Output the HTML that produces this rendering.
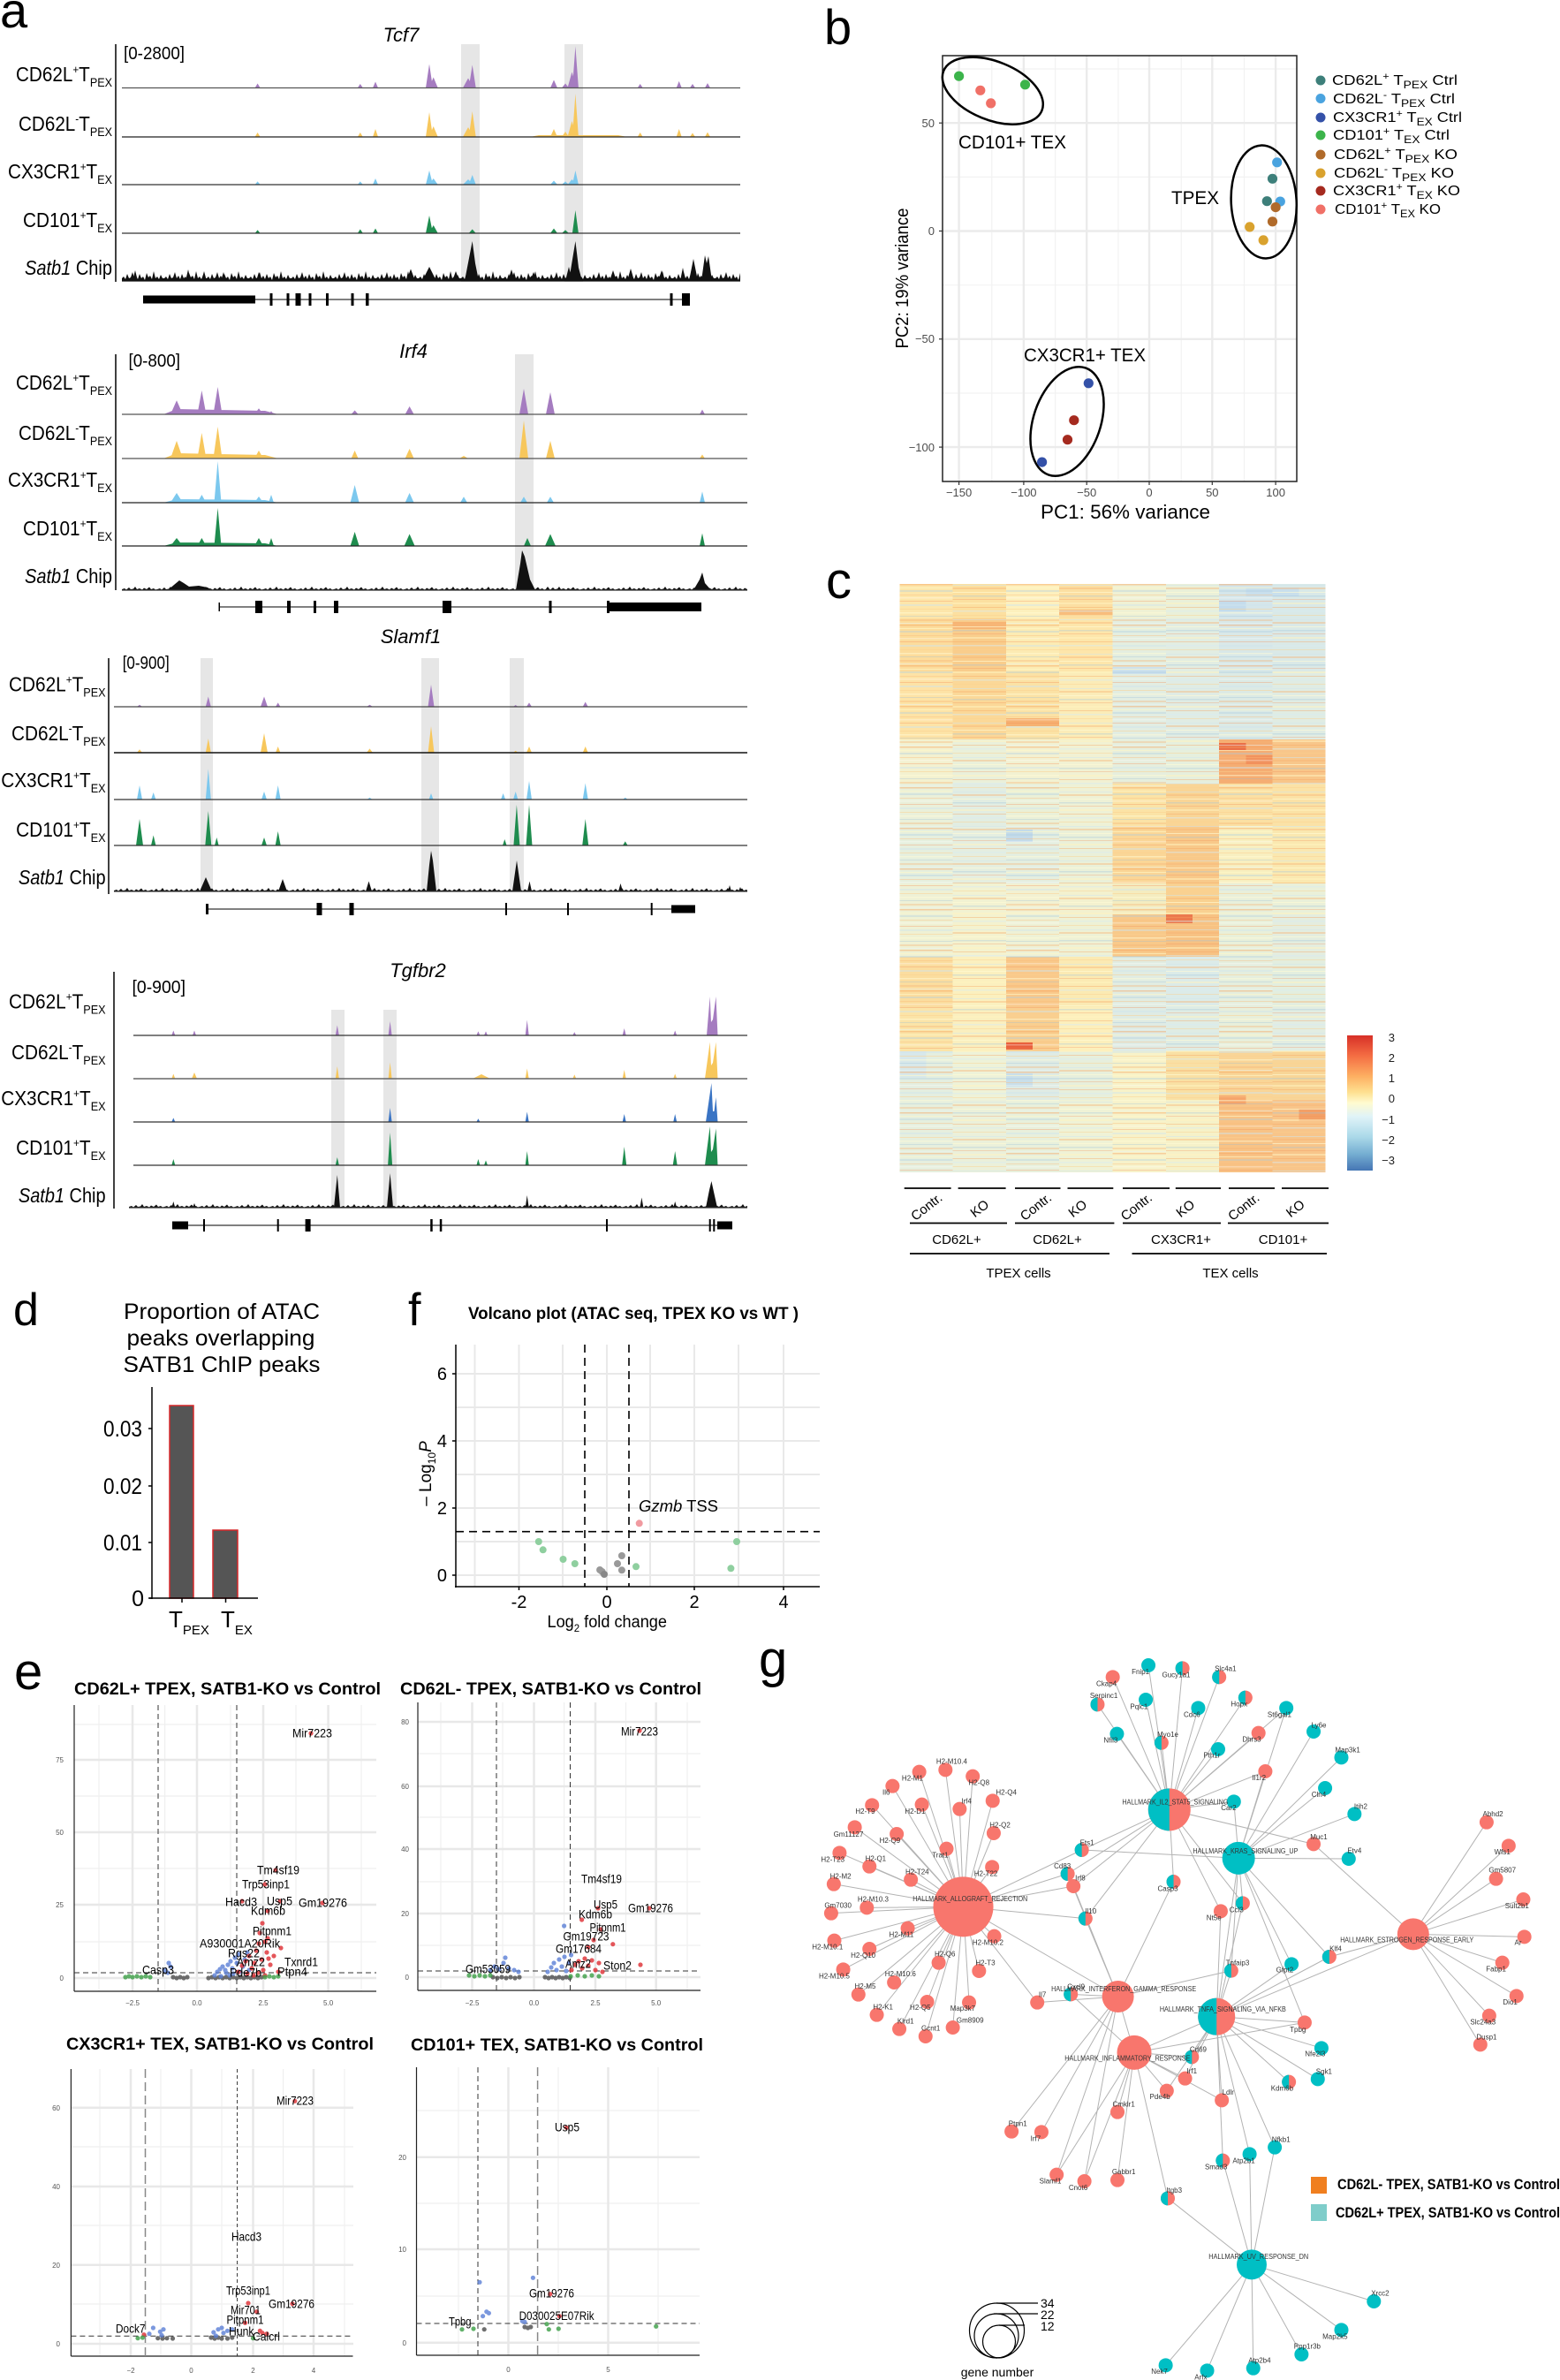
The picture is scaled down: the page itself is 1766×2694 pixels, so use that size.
<!DOCTYPE html>
<html><head><meta charset="utf-8"><style>
html,body{margin:0;padding:0;background:#fff;}
svg{display:block;}
text{font-family:"Liberation Sans",Arial,sans-serif;}
</style></head><body>
<svg width="1766" height="2694" viewBox="0 0 1766 2694" xmlns="http://www.w3.org/2000/svg">
<defs>
<pattern id="nz1" width="48" height="14" patternUnits="userSpaceOnUse"><path d="M0,14L0,11L2,9L4,12L6,6L8,11L10,10L12,4L14,11L16,8L18,12L20,6L22,11L24,9L26,13L28,5L30,10L32,8L34,12L36,3L38,11L40,9L42,12L44,7L46,11L48,11L48,14Z" fill="#111"/></pattern>
<pattern id="nz2" width="40" height="6" patternUnits="userSpaceOnUse"><path d="M0,6L0,5L3,4L5,5.5L8,3L10,5L13,4.5L15,2L17,5L20,4L23,5.5L25,3.5L28,5L31,2.5L33,5L36,4L38,5.5L40,5L40,6Z" fill="#111"/></pattern>
<pattern id="hsA" width="60.3" height="46" patternUnits="userSpaceOnUse" x="1018.3" y="661">
<rect y="0" width="60.3" height="1.5" fill="#f6a35f" opacity=".45"/><rect y="4" width="60.3" height="1" fill="#fff8c8" opacity=".6"/><rect y="7" width="60.3" height="2" fill="#a9cce3" opacity=".35"/><rect y="12" width="60.3" height="1" fill="#f9b878" opacity=".4"/><rect y="15" width="60.3" height="1.5" fill="#fff" opacity=".3"/><rect y="19" width="60.3" height="1" fill="#f28c57" opacity=".35"/><rect y="23" width="60.3" height="2" fill="#cfe5ee" opacity=".45"/><rect y="28" width="60.3" height="1" fill="#fbd08e" opacity=".5"/><rect y="32" width="60.3" height="1.5" fill="#fffbd6" opacity=".5"/><rect y="36" width="60.3" height="1" fill="#92bcd9" opacity=".3"/><rect y="40" width="60.3" height="2" fill="#f7b171" opacity=".35"/><rect y="44" width="60.3" height="1" fill="#e9f3f3" opacity=".5"/>
</pattern>
<pattern id="hsB" width="60.3" height="39" patternUnits="userSpaceOnUse" x="1018.3" y="661">
<rect y="1" width="60.3" height="1" fill="#cfe5ee" opacity=".5"/><rect y="4" width="60.3" height="2" fill="#f7b171" opacity=".4"/><rect y="9" width="60.3" height="1" fill="#fffbd6" opacity=".6"/><rect y="13" width="60.3" height="1.5" fill="#9cc3dd" opacity=".35"/><rect y="17" width="60.3" height="1" fill="#f28c57" opacity=".3"/><rect y="21" width="60.3" height="2" fill="#fff3c0" opacity=".5"/><rect y="26" width="60.3" height="1" fill="#f6a35f" opacity=".4"/><rect y="30" width="60.3" height="1.5" fill="#d8ebf1" opacity=".5"/><rect y="35" width="60.3" height="1" fill="#fbd08e" opacity=".45"/>
</pattern>
<linearGradient id="cbar" x1="0" y1="0" x2="0" y2="1">
<stop offset="0" stop-color="#d73027"/><stop offset=".15" stop-color="#f46d43"/><stop offset=".3" stop-color="#fdae61"/><stop offset=".42" stop-color="#fee090"/><stop offset=".5" stop-color="#fffbd0"/><stop offset=".6" stop-color="#e0f3f8"/><stop offset=".75" stop-color="#abd9e9"/><stop offset=".88" stop-color="#74add1"/><stop offset="1" stop-color="#4575b4"/>
</linearGradient>
</defs>

<!-- ================= PANEL A ================= -->
<text x="0" y="31" font-size="56">a</text>

<!-- Tcf7 -->
<rect x="522" y="50" width="21" height="269" fill="#e6e6e6"/>
<rect x="639" y="50" width="21" height="269" fill="#e6e6e6"/>
<line x1="131" y1="50" x2="131" y2="319" stroke="#000" stroke-width="1.5"/>
<text x="454" y="47" font-size="22" font-style="italic" text-anchor="middle">Tcf7</text>
<text x="140" y="67" font-size="20" textLength="69" lengthAdjust="spacingAndGlyphs">[0-2800]</text>
<g transform="translate(0,99.5)"><path fill="#a57cc0" d="M288.6,0L291.6,-5L294.6,0Z M404.8,0L407.8,-4.5L410.8,0Z M422,0L425,-7L428,0Z M482,0L486,-27L490,0Z M485.7,0L490.7,-12L495.7,0Z M524,0L530,-11L536,0Z M530.7,0L534.7,-26L538.7,0Z M623,0L627,-9L631,0Z M636,0L640,-5L644,0Z M642.5,0L647.5,-18L652.5,0Z M647.9,0L651.4,-47L654.9,0Z M721.7,0L724.7,-4.5L727.7,0Z M765.7,0L768.7,-7.6L771.7,0Z M781,0L784,-4.5L787,0Z M798,0L801,-5.4L804,0Z"/><line x1="138" y1="0" x2="838" y2="0" stroke="#555" stroke-width="1.3"/></g>
<g transform="translate(0,155)"><path fill="#f7c75c" d="M288.6,0L291.6,-5L294.6,0Z M404.8,0L407.8,-5L410.8,0Z M422,0L425,-9L428,0Z M482,0L486,-28L490,0Z M485.7,0L490.7,-12L495.7,0Z M524,0L530,-11L536,0Z M530.7,0L534.7,-29L538.7,0Z M623,0L627,-9L631,0Z M636,0L640,-6L644,0Z M642.5,0L647.5,-18L652.5,0Z M647.9,0L651.4,-49L654.9,0Z M721.7,0L724.7,-5L727.7,0Z M765.7,0L768.7,-9L771.7,0Z M781,0L784,-4.5L787,0Z M798,0L801,-5.4L804,0Z M600,0L610,-2L700,-2L710,0Z"/><line x1="138" y1="0" x2="838" y2="0" stroke="#222" stroke-width="1.3"/></g>
<g transform="translate(0,209)"><path fill="#7cc8ee" d="M288.6,0L291.6,-3.6L294.6,0Z M404.8,0L407.8,-3.6L410.8,0Z M422,0L425,-7L428,0Z M482,0L486,-16L490,0Z M485.7,0L490.7,-7L495.7,0Z M524,0L530,-6L536,0Z M530.7,0L534.7,-11L538.7,0Z M623,0L627,-4.5L631,0Z M636,0L640,-3.6L644,0Z M647.9,0L651.4,-16L654.9,0Z M642.5,0L647.5,-6L652.5,0Z"/><line x1="138" y1="0" x2="838" y2="0" stroke="#333" stroke-width="1.3"/></g>
<g transform="translate(0,264)"><path fill="#1e8c4e" d="M288.6,0L291.6,-3.6L294.6,0Z M404.8,0L407.8,-4.5L410.8,0Z M422,0L425,-5.4L428,0Z M482,0L486,-20L490,0Z M485.7,0L490.7,-9L495.7,0Z M530.7,0L534.7,-4.5L538.7,0Z M623,0L627,-5.4L631,0Z M636,0L640,-3.6L644,0Z M647.9,0L651.4,-26L654.9,0Z"/><line x1="138" y1="0" x2="838" y2="0" stroke="#333" stroke-width="1.3"/></g>
<g transform="translate(138,304)"><rect x="0" y="0" width="700" height="14" fill="url(#nz1)"/></g>
<g transform="translate(0,318)"><path fill="#111" d="M526,0L534.7,-45L538,-20L542,0Z M644,0L651.4,-45L655,-15L659,0Z M478,0L486,-16L494,0Z M460,0L465,-13.5L470,0Z M794,0L798,-29L800,-20L802,-28L806,0Z M780,0L785,-25L790,0Z M640,0L644,-16L648,0Z M710,0L714,-14L718,0Z M690,0L694,-12L698,0Z M745,0L749,-12L753,0Z M770,0L773,-15L776,0Z M575,0L579,-13L583,0Z M600,0L604,-10L608,0Z M210,0L213,-13L216,0Z M228,0L231,-11L234,0Z M250,0L253,-10L256,0Z M290,0L293,-10L296,0Z M150,0L153,-12L156,0Z M512,0L516,-11L520,0Z"/><line x1="138" y1="0" x2="838" y2="0" stroke="#111" stroke-width="1.3"/></g>
<g font-size="23">
<text x="127" y="92" text-anchor="end" textLength="109" lengthAdjust="spacingAndGlyphs">CD62L<tspan font-size="13" dy="-9">+</tspan><tspan dy="9">T</tspan><tspan font-size="14" dy="6">PEX</tspan></text>
<text x="127" y="148" text-anchor="end" textLength="106" lengthAdjust="spacingAndGlyphs">CD62L<tspan font-size="13" dy="-9">-</tspan><tspan dy="9">T</tspan><tspan font-size="14" dy="6">PEX</tspan></text>
<text x="127" y="202" text-anchor="end" textLength="118" lengthAdjust="spacingAndGlyphs">CX3CR1<tspan font-size="13" dy="-9">+</tspan><tspan dy="9">T</tspan><tspan font-size="14" dy="6">EX</tspan></text>
<text x="127" y="257" text-anchor="end" textLength="101" lengthAdjust="spacingAndGlyphs">CD101<tspan font-size="13" dy="-9">+</tspan><tspan dy="9">T</tspan><tspan font-size="14" dy="6">EX</tspan></text>
<text x="127" y="311" text-anchor="end" textLength="99" lengthAdjust="spacingAndGlyphs"><tspan font-style="italic">Satb1</tspan> Chip</text>
</g>
<g fill="#000"><rect x="162" y="334.5" width="127" height="9"/><rect x="289" y="338.5" width="492" height="1"/><rect x="305.5" y="332" width="3" height="14"/><rect x="324.5" y="332" width="3" height="14"/><rect x="334.5" y="332" width="6" height="14"/><rect x="349.5" y="332" width="3" height="14"/><rect x="369" y="332" width="3" height="14"/><rect x="397.5" y="332" width="3" height="14"/><rect x="414" y="332" width="3.5" height="14"/><rect x="758.5" y="332" width="3" height="14"/><rect x="772" y="332" width="9" height="14"/></g>

<!-- Irf4 -->
<rect x="583" y="401" width="21" height="267" fill="#e6e6e6"/>
<line x1="131" y1="401" x2="131" y2="668" stroke="#000" stroke-width="1.5"/>
<text x="468" y="405" font-size="22" font-style="italic" text-anchor="middle">Irf4</text>
<text x="145.5" y="415" font-size="20" textLength="58.5" lengthAdjust="spacingAndGlyphs">[0-800]</text>
<g transform="translate(0,469)"><path fill="#a57cc0" d="M193,0L200,-15.7L207,0Z M223.4,0L228.4,-27L233.4,0Z M241.5,0L246.5,-31L251.5,0Z M261,0L265,-4.5L269,0Z M288,0L293,-6.7L298,0Z M304,0L307,-3.6L310,0Z M397.6,0L401.6,-4.5L405.6,0Z M458.6,0L463.6,-9L468.6,0Z M588,0L593,-29L598,0Z M618,0L623,-25L628,0Z M792,0L795,-5.4L798,0Z M185,0L200,-6L300,-4L315,0Z"/><line x1="138" y1="0" x2="846" y2="0" stroke="#555" stroke-width="1.3"/></g>
<g transform="translate(0,519)"><path fill="#f7c75c" d="M193,0L200,-20L207,0Z M223.4,0L228.4,-29L233.4,0Z M241.5,0L246.5,-36L251.5,0Z M288,0L293,-9L298,0Z M397.6,0L401.6,-9L405.6,0Z M458.6,0L463.6,-11L468.6,0Z M588,0L593,-43L598,0Z M618,0L623,-20L628,0Z M792,0L795,-4.5L798,0Z M185,0L200,-6L300,-4L315,0Z M520,0L525,-3L530,0Z"/><line x1="138" y1="0" x2="846" y2="0" stroke="#555" stroke-width="1.3"/></g>
<g transform="translate(0,569)"><path fill="#7cc8ee" d="M193,0L200,-11L207,0Z M223.4,0L228.4,-9L233.4,0Z M242.5,0L246.5,-47L250.5,0Z M288,0L293,-7L298,0Z M304,0L307,-9L310,0Z M396.6,0L401.6,-20L406.6,0Z M458.6,0L463.6,-11L468.6,0Z M521,0L525,-6.7L529,0Z M589,0L593,-6.7L597,0Z M619,0L623,-6.7L627,0Z M792,0L795,-12.6L798,0Z M185,0L200,-4L300,-3L315,0Z"/><line x1="138" y1="0" x2="846" y2="0" stroke="#222" stroke-width="1.3"/></g>
<g transform="translate(0,618)"><path fill="#1e8c4e" d="M193,0L200,-9L207,0Z M223.4,0L228.4,-9L233.4,0Z M242.5,0L246.5,-43L250.5,0Z M288,0L293,-9L298,0Z M304,0L307,-9L310,0Z M396.6,0L401.6,-16L406.6,0Z M457.6,0L463.6,-13.5L469.6,0Z M593,0L597,-9L601,0Z M617,0L623,-13.5L629,0Z M792,0L795,-14.4L798,0Z M185,0L200,-4L300,-3L315,0Z"/><line x1="138" y1="0" x2="846" y2="0" stroke="#222" stroke-width="1.3"/></g>
<g transform="translate(138,662)"><rect x="0" y="0" width="708" height="6" fill="url(#nz2)"/></g>
<g transform="translate(0,668)"><path fill="#111" d="M190,0L197,-6L203,-11L208,-8L214,-4L225,-5L235,-3L240,0Z M584,0L589,-30L591,-45L594,-38L600,-12L606,0Z M785,0L792,-12L795,-20L798,-8L805,0Z M617,0L620,-4L623,0Z"/><line x1="138" y1="0" x2="846" y2="0" stroke="#333" stroke-width="1.3"/></g>
<g font-size="23">
<text x="127" y="441" text-anchor="end" textLength="109" lengthAdjust="spacingAndGlyphs">CD62L<tspan font-size="13" dy="-9">+</tspan><tspan dy="9">T</tspan><tspan font-size="14" dy="6">PEX</tspan></text>
<text x="127" y="498" text-anchor="end" textLength="106" lengthAdjust="spacingAndGlyphs">CD62L<tspan font-size="13" dy="-9">-</tspan><tspan dy="9">T</tspan><tspan font-size="14" dy="6">PEX</tspan></text>
<text x="127" y="551" text-anchor="end" textLength="118" lengthAdjust="spacingAndGlyphs">CX3CR1<tspan font-size="13" dy="-9">+</tspan><tspan dy="9">T</tspan><tspan font-size="14" dy="6">EX</tspan></text>
<text x="127" y="606" text-anchor="end" textLength="101" lengthAdjust="spacingAndGlyphs">CD101<tspan font-size="13" dy="-9">+</tspan><tspan dy="9">T</tspan><tspan font-size="14" dy="6">EX</tspan></text>
<text x="127" y="660" text-anchor="end" textLength="99" lengthAdjust="spacingAndGlyphs"><tspan font-style="italic">Satb1</tspan> Chip</text>
</g>
<g fill="#000"><rect x="248" y="686.5" width="546" height="1"/><rect x="247.5" y="682" width="1.5" height="10"/><rect x="289" y="680" width="8" height="14"/><rect x="325" y="680" width="4" height="14"/><rect x="355" y="680" width="3" height="14"/><rect x="378" y="680" width="5" height="14"/><rect x="501" y="680" width="10" height="14"/><rect x="621.5" y="680" width="3" height="14"/><rect x="687" y="680" width="3" height="14"/><rect x="688" y="682" width="106" height="10"/></g>

<!-- Slamf1 -->
<rect x="227" y="745" width="14" height="264" fill="#e6e6e6"/>
<rect x="477" y="745" width="20" height="264" fill="#e6e6e6"/>
<rect x="577" y="745" width="16" height="264" fill="#e6e6e6"/>
<line x1="123" y1="745" x2="123" y2="1012" stroke="#000" stroke-width="1.5"/>
<text x="465" y="728" font-size="22" font-style="italic" text-anchor="middle">Slamf1</text>
<text x="138.7" y="757" font-size="20" textLength="53" lengthAdjust="spacingAndGlyphs">[0-900]</text>
<g transform="translate(0,800)"><path fill="#a57cc0" d="M155,0L158,-2.3L161,0Z M232.8,0L235.8,-11.5L238.8,0Z M295,0L299,-11.5L303,0Z M312,0L314.7,-4.6L317.4,0Z M415,0L418.5,-2.3L422,0Z M484.5,0L488,-25L491.5,0Z M581,0L583.7,-2L586.4,0Z M596,0L599,-4.6L602,0Z M659.7,0L662.7,-5.5L665.7,0Z"/><line x1="129" y1="0" x2="846" y2="0" stroke="#444" stroke-width="1.3"/></g>
<g transform="translate(0,852)"><path fill="#f7c75c" d="M155,0L158,-3.7L161,0Z M232.8,0L235.8,-16L238.8,0Z M295,0L299,-22L303,0Z M312,0L314.7,-7L317.4,0Z M415,0L418.5,-4.6L422,0Z M484.5,0L488,-30L491.5,0Z M581,0L583.7,-2.3L586.4,0Z M596,0L599,-7L602,0Z M659.7,0L662.7,-7L665.7,0Z"/><line x1="129" y1="0" x2="846" y2="0" stroke="#111" stroke-width="1.5"/></g>
<g transform="translate(0,905)"><path fill="#7cc8ee" d="M155,0L158,-16L161,0Z M171,0L173.7,-8L176.4,0Z M232.8,0L235.8,-34.6L238.8,0Z M296,0L299,-9L302,0Z M311.7,0L314.7,-16L317.7,0Z M415.5,0L418.5,-2.3L421.5,0Z M485.5,0L488,-7L490.5,0Z M567,0L569.6,-7L572.2,0Z M581,0L583.7,-9L586.4,0Z M596,0L599,-21L602,0Z M659.7,0L662.7,-18.5L665.7,0Z M705,0L707.8,-2.3L710.6,0Z"/><line x1="129" y1="0" x2="846" y2="0" stroke="#333" stroke-width="1.3"/></g>
<g transform="translate(0,957)"><path fill="#1e8c4e" d="M154,0L158,-30L162,0Z M171,0L173.7,-11.5L176.4,0Z M232.3,0L235.8,-39L239.3,0Z M243,0L245.3,-9L247.6,0Z M296,0L299,-9L302,0Z M311.7,0L314.7,-16L317.7,0Z M569,0L571.3,-7L573.6,0Z M581.4,0L584.9,-46L588.4,0Z M595.5,0L599,-46L602.5,0Z M659.2,0L662.7,-30L666.2,0Z M705,0L707.8,-4.6L710.6,0Z"/><line x1="129" y1="0" x2="846" y2="0" stroke="#333" stroke-width="1.3"/></g>
<g transform="translate(129,1003)"><rect x="0" y="0" width="717" height="6" fill="url(#nz2)"/></g>
<g transform="translate(0,1009)"><path fill="#111" d="M226,0L233,-16L240,0Z M315,0L320,-14L325,0Z M414,0L417.5,-11.5L421,0Z M483,0L486,-30L488,-46L490,-35L494,0Z M580,0L585,-35L590,0Z M597,0L599.5,-11.5L602,0Z M700,0L702.5,-9L705,0Z M824,0L826,-7L828,0Z M836,0L838,-5L840,0Z"/><line x1="129" y1="0" x2="846" y2="0" stroke="#333" stroke-width="1.3"/></g>
<g font-size="23">
<text x="119.6" y="782.5" text-anchor="end" textLength="109.6" lengthAdjust="spacingAndGlyphs">CD62L<tspan font-size="13" dy="-9">+</tspan><tspan dy="9">T</tspan><tspan font-size="14" dy="6">PEX</tspan></text>
<text x="119.6" y="838" text-anchor="end" textLength="106.6" lengthAdjust="spacingAndGlyphs">CD62L<tspan font-size="13" dy="-9">-</tspan><tspan dy="9">T</tspan><tspan font-size="14" dy="6">PEX</tspan></text>
<text x="119.6" y="891" text-anchor="end" textLength="118.4" lengthAdjust="spacingAndGlyphs">CX3CR1<tspan font-size="13" dy="-9">+</tspan><tspan dy="9">T</tspan><tspan font-size="14" dy="6">EX</tspan></text>
<text x="119.6" y="947" text-anchor="end" textLength="101.5" lengthAdjust="spacingAndGlyphs">CD101<tspan font-size="13" dy="-9">+</tspan><tspan dy="9">T</tspan><tspan font-size="14" dy="6">EX</tspan></text>
<text x="119.6" y="1001" text-anchor="end" textLength="98.7" lengthAdjust="spacingAndGlyphs"><tspan font-style="italic">Satb1</tspan> Chip</text>
</g>
<g fill="#000"><rect x="234" y="1028.5" width="553" height="1"/><rect x="233" y="1023" width="3" height="12"/><rect x="358.5" y="1022" width="6" height="14"/><rect x="395.5" y="1022" width="5" height="14"/><rect x="572" y="1022" width="2" height="14"/><rect x="642" y="1022" width="2" height="14"/><rect x="736.7" y="1022" width="2" height="14"/><rect x="760" y="1024.5" width="27" height="9"/></g>

<!-- Tgfbr2 -->
<rect x="375" y="1143" width="15" height="224" fill="#e6e6e6"/>
<rect x="434" y="1143" width="15" height="224" fill="#e6e6e6"/>
<line x1="129" y1="1100" x2="129" y2="1368" stroke="#000" stroke-width="1.5"/>
<text x="473" y="1106" font-size="22" font-style="italic" text-anchor="middle">Tgfbr2</text>
<text x="149.5" y="1124" font-size="20" textLength="60.5" lengthAdjust="spacingAndGlyphs">[0-900]</text>
<g transform="translate(0,1172)"><path fill="#a57cc0" d="M194.3,0L196.3,-5.5L198.3,0Z M218,0L220,-5.5L222,0Z M379.8,0L381.8,-11.5L383.8,0Z M439.6,0L441.6,-16L443.6,0Z M539.4,0L541.4,-4.6L543.4,0Z M548,0L550,-4.6L552,0Z M594.7,0L596.7,-17.5L598.7,0Z M648.3,0L650.3,-3.7L652.3,0Z M704.7,0L706.7,-8L708.7,0Z M762.2,0L764.2,-5.5L766.2,0Z M800,0L803.7,-44L805,-15L807,-18L810.5,-44L812.5,0Z"/><line x1="151" y1="0" x2="846" y2="0" stroke="#333" stroke-width="1.3"/></g>
<g transform="translate(0,1221)"><path fill="#f7c75c" d="M194.3,0L196.3,-5.5L198.3,0Z M217,0L220,-7L223,0Z M379.8,0L381.8,-14L383.8,0Z M439.6,0L441.6,-18.5L443.6,0Z M535,0L545,-5L555,0Z M594.7,0L596.7,-11.5L598.7,0Z M648.3,0L650.3,-4.6L652.3,0Z M704.7,0L706.7,-10L708.7,0Z M762.2,0L764.2,-5.5L766.2,0Z M798,0L803.7,-41.5L805,-15L807,-18L810.5,-41.5L812.5,0Z"/><line x1="151" y1="0" x2="846" y2="0" stroke="#666" stroke-width="1.5"/></g>
<g transform="translate(0,1270)"><path fill="#3a74c4" d="M194.3,0L196.3,-4.6L198.3,0Z M439.6,0L441.6,-16L443.6,0Z M539.4,0L541.4,-3.7L543.4,0Z M594.7,0L596.7,-11.5L598.7,0Z M704.7,0L706.7,-9L708.7,0Z M762.2,0L764.2,-9L766.2,0Z M799,0L805.4,-44L807,-12L808.5,-12L810.5,-28L812.5,0Z"/><line x1="151" y1="0" x2="846" y2="0" stroke="#333" stroke-width="1.3"/></g>
<g transform="translate(0,1319)"><path fill="#1e8c4e" d="M194.3,0L196.3,-7L198.3,0Z M379.8,0L381.8,-9L383.8,0Z M439.1,0L441.6,-37L444.1,0Z M539.4,0L541.4,-7L543.4,0Z M548,0L550,-5.5L552,0Z M594.7,0L596.7,-16L598.7,0Z M704.2,0L706.7,-21L709.2,0Z M761.7,0L764.2,-16L766.7,0Z M798,0L803.7,-44L805,-15L807,-18L810.5,-41.5L812.5,0Z"/><line x1="151" y1="0" x2="846" y2="0" stroke="#333" stroke-width="1.3"/></g>
<g transform="translate(146,1361)"><rect x="0" y="0" width="700" height="6" fill="url(#nz2)"/></g>
<g transform="translate(0,1367)"><path fill="#111" d="M378,0L381.8,-37L385,0Z M438,0L441.6,-39L445,0Z M594.7,0L596.7,-14L598.7,0Z M724.4,0L726.4,-11.5L728.4,0Z M762.2,0L764.2,-7L766.2,0Z M799,0L803,-20L805.4,-30L808,-18L812,0Z M194.3,0L196.3,-7L198.3,0Z M218,0L220,-5L222,0Z"/><line x1="146" y1="0" x2="846" y2="0" stroke="#333" stroke-width="1.3"/></g>
<g font-size="23">
<text x="119.6" y="1141.5" text-anchor="end" textLength="109.6" lengthAdjust="spacingAndGlyphs">CD62L<tspan font-size="13" dy="-9">+</tspan><tspan dy="9">T</tspan><tspan font-size="14" dy="6">PEX</tspan></text>
<text x="119.6" y="1199" text-anchor="end" textLength="106.6" lengthAdjust="spacingAndGlyphs">CD62L<tspan font-size="13" dy="-9">-</tspan><tspan dy="9">T</tspan><tspan font-size="14" dy="6">PEX</tspan></text>
<text x="119.6" y="1251" text-anchor="end" textLength="118.4" lengthAdjust="spacingAndGlyphs">CX3CR1<tspan font-size="13" dy="-9">+</tspan><tspan dy="9">T</tspan><tspan font-size="14" dy="6">EX</tspan></text>
<text x="119.6" y="1307" text-anchor="end" textLength="101.5" lengthAdjust="spacingAndGlyphs">CD101<tspan font-size="13" dy="-9">+</tspan><tspan dy="9">T</tspan><tspan font-size="14" dy="6">EX</tspan></text>
<text x="119.6" y="1361" text-anchor="end" textLength="98.7" lengthAdjust="spacingAndGlyphs"><tspan font-style="italic">Satb1</tspan> Chip</text>
</g>
<g fill="#000"><rect x="213" y="1386.5" width="616" height="1"/><rect x="195" y="1382.5" width="18" height="9"/><rect x="230" y="1380" width="2" height="14"/><rect x="313.7" y="1380" width="2" height="14"/><rect x="345.6" y="1380" width="6" height="14"/><rect x="487.2" y="1380" width="2.5" height="14"/><rect x="497.8" y="1380" width="2.5" height="14"/><rect x="686" y="1380" width="2" height="14"/><rect x="802.7" y="1380" width="2" height="14"/><rect x="807.3" y="1380" width="2" height="14"/><rect x="812" y="1382.5" width="17" height="9"/></g>

<!-- ================= PANEL B ================= -->
<text x="933" y="50" font-size="56">b</text>
<rect x="1067" y="63" width="401" height="482" fill="#fff"/>
<g stroke="#f2f2f2" stroke-width="1.2">
<line x1="1122.8" y1="63" x2="1122.8" y2="545"/><line x1="1194.6" y1="63" x2="1194.6" y2="545"/><line x1="1265.9" y1="63" x2="1265.9" y2="545"/><line x1="1337.2" y1="63" x2="1337.2" y2="545"/><line x1="1408.5" y1="63" x2="1408.5" y2="545"/>
<line x1="1067" y1="78" x2="1468" y2="78"/><line x1="1067" y1="200.4" x2="1468" y2="200.4"/><line x1="1067" y1="322.7" x2="1468" y2="322.7"/><line x1="1067" y1="445" x2="1468" y2="445"/>
</g>
<g stroke="#ebebeb" stroke-width="2.4">
<line x1="1085.6" y1="63" x2="1085.6" y2="545"/><line x1="1158.9" y1="63" x2="1158.9" y2="545"/><line x1="1230.2" y1="63" x2="1230.2" y2="545"/><line x1="1301" y1="63" x2="1301" y2="545"/><line x1="1372.3" y1="63" x2="1372.3" y2="545"/><line x1="1444.1" y1="63" x2="1444.1" y2="545"/>
<line x1="1067" y1="139.2" x2="1468" y2="139.2"/><line x1="1067" y1="261.5" x2="1468" y2="261.5"/><line x1="1067" y1="383.8" x2="1468" y2="383.8"/><line x1="1067" y1="506.1" x2="1468" y2="506.1"/>
</g>
<rect x="1067" y="63" width="401" height="482" fill="none" stroke="#222" stroke-width="1.5"/>
<g stroke="#333" stroke-width="1.2">
<line x1="1063" y1="139.2" x2="1067" y2="139.2"/><line x1="1063" y1="261.5" x2="1067" y2="261.5"/><line x1="1063" y1="383.8" x2="1067" y2="383.8"/><line x1="1063" y1="506.1" x2="1067" y2="506.1"/>
<line x1="1085.6" y1="545" x2="1085.6" y2="549"/><line x1="1158.9" y1="545" x2="1158.9" y2="549"/><line x1="1230.2" y1="545" x2="1230.2" y2="549"/><line x1="1301" y1="545" x2="1301" y2="549"/><line x1="1372.3" y1="545" x2="1372.3" y2="549"/><line x1="1444.1" y1="545" x2="1444.1" y2="549"/>
</g>
<g font-size="13" fill="#4d4d4d">
<text x="1058" y="144" text-anchor="end">50</text><text x="1058" y="266" text-anchor="end">0</text><text x="1058" y="388" text-anchor="end">−50</text><text x="1058" y="511" text-anchor="end">−100</text>
<g text-anchor="middle"><text x="1085.6" y="562">−150</text><text x="1158.9" y="562">−100</text><text x="1230.2" y="562">−50</text><text x="1301" y="562">0</text><text x="1372.3" y="562">50</text><text x="1444.1" y="562">100</text></g>
</g>
<text x="1274" y="587" font-size="22" text-anchor="middle" textLength="192" lengthAdjust="spacingAndGlyphs">PC1: 56% variance</text>
<text transform="translate(1028,315) rotate(-90)" font-size="20" text-anchor="middle" textLength="159" lengthAdjust="spacingAndGlyphs">PC2: 19% variance</text>
<g fill="none" stroke="#000" stroke-width="2.5">
<ellipse cx="1123.8" cy="102.7" rx="60" ry="33" transform="rotate(22 1123.8 102.7)"/>
<ellipse cx="1430.7" cy="228.5" rx="37" ry="64" transform="rotate(-3 1430.7 228.5)"/>
<ellipse cx="1208" cy="477" rx="38" ry="64" transform="rotate(19 1208 477)"/>
</g>
<g>
<circle cx="1085.6" cy="86.2" r="5.6" fill="#3cb44b"/><circle cx="1160.5" cy="95.8" r="5.6" fill="#3cb44b"/>
<circle cx="1109.8" cy="102.3" r="5.6" fill="#f07067"/><circle cx="1121.7" cy="116.9" r="5.6" fill="#f07067"/>
<circle cx="1445.7" cy="183.8" r="5.6" fill="#4aa3df"/><circle cx="1440.5" cy="202.3" r="5.6" fill="#3d7f7a"/><circle cx="1434.3" cy="227.7" r="5.6" fill="#3d7f7a"/><circle cx="1449.3" cy="228.1" r="5.6" fill="#4aa3df"/><circle cx="1444.1" cy="234.6" r="5.6" fill="#b06a2a"/><circle cx="1440.5" cy="250.8" r="5.6" fill="#b06a2a"/><circle cx="1414.7" cy="256.9" r="5.6" fill="#d9a22e"/><circle cx="1430.2" cy="271.9" r="5.6" fill="#d9a22e"/>
<circle cx="1232.3" cy="433.8" r="5.6" fill="#3451a8"/><circle cx="1215.8" cy="475.7" r="5.6" fill="#a52a1f"/><circle cx="1208.5" cy="497.7" r="5.6" fill="#a52a1f"/><circle cx="1179.6" cy="523.1" r="5.6" fill="#3451a8"/>
</g>
<text x="1085" y="168" font-size="21" textLength="122" lengthAdjust="spacingAndGlyphs">CD101+ TEX</text>
<text x="1326" y="231" font-size="21" textLength="54" lengthAdjust="spacingAndGlyphs">TPEX</text>
<text x="1159" y="409" font-size="21" textLength="138" lengthAdjust="spacingAndGlyphs">CX3CR1+ TEX</text>
<!-- legend b -->
<g>
<circle cx="1495" cy="91" r="5.5" fill="#3d7f7a"/><circle cx="1495" cy="111.5" r="5.5" fill="#4aa3df"/><circle cx="1495" cy="133" r="5.5" fill="#3451a8"/><circle cx="1495" cy="153" r="5.5" fill="#3cb44b"/><circle cx="1495" cy="175" r="5.5" fill="#b06a2a"/><circle cx="1495" cy="196" r="5.5" fill="#d9a22e"/><circle cx="1495" cy="216" r="5.5" fill="#a52a1f"/><circle cx="1495" cy="237" r="5.5" fill="#f07067"/>
</g>
<g font-size="16">
<text x="1508" y="96" textLength="142" lengthAdjust="spacingAndGlyphs">CD62L<tspan font-size="11" dy="-6">+</tspan><tspan dy="6"> T</tspan><tspan font-size="12" dy="4">PEX</tspan><tspan dy="-4"> Ctrl</tspan></text>
<text x="1509" y="117" textLength="138" lengthAdjust="spacingAndGlyphs">CD62L<tspan font-size="11" dy="-6">-</tspan><tspan dy="6"> T</tspan><tspan font-size="12" dy="4">PEX</tspan><tspan dy="-4"> Ctrl</tspan></text>
<text x="1509" y="138" textLength="146" lengthAdjust="spacingAndGlyphs">CX3CR1<tspan font-size="11" dy="-6">+</tspan><tspan dy="6"> T</tspan><tspan font-size="12" dy="4">EX</tspan><tspan dy="-4"> Ctrl</tspan></text>
<text x="1509" y="158" textLength="132" lengthAdjust="spacingAndGlyphs">CD101<tspan font-size="11" dy="-6">+</tspan><tspan dy="6"> T</tspan><tspan font-size="12" dy="4">EX</tspan><tspan dy="-4"> Ctrl</tspan></text>
<text x="1510" y="180" textLength="140" lengthAdjust="spacingAndGlyphs">CD62L<tspan font-size="11" dy="-6">+</tspan><tspan dy="6"> T</tspan><tspan font-size="12" dy="4">PEX</tspan><tspan dy="-4"> KO</tspan></text>
<text x="1510" y="201" textLength="136" lengthAdjust="spacingAndGlyphs">CD62L<tspan font-size="11" dy="-6">-</tspan><tspan dy="6"> T</tspan><tspan font-size="12" dy="4">PEX</tspan><tspan dy="-4"> KO</tspan></text>
<text x="1509" y="221" textLength="144" lengthAdjust="spacingAndGlyphs">CX3CR1<tspan font-size="11" dy="-6">+</tspan><tspan dy="6"> T</tspan><tspan font-size="12" dy="4">EX</tspan><tspan dy="-4"> KO</tspan></text>
<text x="1511" y="242" textLength="120" lengthAdjust="spacingAndGlyphs">CD101<tspan font-size="11" dy="-6">+</tspan><tspan dy="6"> T</tspan><tspan font-size="12" dy="4">EX</tspan><tspan dy="-4"> KO</tspan></text>
</g>

<!-- ================= PANEL C ================= -->
<text x="935" y="677" font-size="58">c</text>
<g shape-rendering="crispEdges">
<!-- b1 661-700 -->
<rect x="1018.3" y="661" width="60.3" height="39" fill="#fde6aa"/><rect x="1078.6" y="661" width="60.3" height="39" fill="#fce0a0"/><rect x="1138.9" y="661" width="60.3" height="39" fill="#fdf0bd"/><rect x="1199.2" y="661" width="60.3" height="39" fill="#fcdfa2"/><rect x="1259.5" y="661" width="60.3" height="39" fill="#eff1d4"/><rect x="1319.8" y="661" width="60.3" height="39" fill="#eaf0d9"/><rect x="1380.1" y="661" width="60.3" height="39" fill="#d5e6ea"/><rect x="1440.4" y="661" width="60.3" height="39" fill="#d9e9e8"/>
<!-- b2 700-760 -->
<rect x="1018.3" y="700" width="60.3" height="60" fill="#fcdc9c"/><rect x="1078.6" y="700" width="60.3" height="60" fill="#f9cd8c"/><rect x="1138.9" y="700" width="60.3" height="60" fill="#fcebb3"/><rect x="1199.2" y="700" width="60.3" height="60" fill="#fde6ab"/><rect x="1259.5" y="700" width="60.3" height="60" fill="#e4eee0"/><rect x="1319.8" y="700" width="60.3" height="60" fill="#e2ede2"/><rect x="1380.1" y="700" width="60.3" height="60" fill="#d9e8e8"/><rect x="1440.4" y="700" width="60.3" height="60" fill="#dae9e7"/>
<!-- b3 760-837 -->
<rect x="1018.3" y="760" width="60.3" height="77" fill="#fde3a6"/><rect x="1078.6" y="760" width="60.3" height="77" fill="#fbd898"/><rect x="1138.9" y="760" width="60.3" height="77" fill="#fbe2a5"/><rect x="1199.2" y="760" width="60.3" height="77" fill="#fbecb8"/><rect x="1259.5" y="760" width="60.3" height="77" fill="#e2ede2"/><rect x="1319.8" y="760" width="60.3" height="77" fill="#e0ece4"/><rect x="1380.1" y="760" width="60.3" height="77" fill="#dceae5"/><rect x="1440.4" y="760" width="60.3" height="77" fill="#e0ece3"/>
<!-- b4 837-887 -->
<rect x="1018.3" y="837" width="60.3" height="50" fill="#f3f1d0"/><rect x="1078.6" y="837" width="60.3" height="50" fill="#eaf0da"/><rect x="1138.9" y="837" width="60.3" height="50" fill="#f2f1d2"/><rect x="1199.2" y="837" width="60.3" height="50" fill="#f1f1d3"/><rect x="1259.5" y="837" width="60.3" height="50" fill="#e6eedd"/><rect x="1319.8" y="837" width="60.3" height="50" fill="#e6efdd"/><rect x="1380.1" y="837" width="60.3" height="50" fill="#f5ad73"/><rect x="1440.4" y="837" width="60.3" height="50" fill="#f8c68a"/>
<!-- b5 887-935 -->
<rect x="1018.3" y="887" width="60.3" height="48" fill="#eaf0da"/><rect x="1078.6" y="887" width="60.3" height="48" fill="#e2ede2"/><rect x="1138.9" y="887" width="60.3" height="48" fill="#eaf0d8"/><rect x="1199.2" y="887" width="60.3" height="48" fill="#eef1d6"/><rect x="1259.5" y="887" width="60.3" height="48" fill="#fbe3a6"/><rect x="1319.8" y="887" width="60.3" height="48" fill="#f9d596"/><rect x="1380.1" y="887" width="60.3" height="48" fill="#fbe0a3"/><rect x="1440.4" y="887" width="60.3" height="48" fill="#fbe2a6"/>
<!-- b6 935-1000 -->
<rect x="1018.3" y="935" width="60.3" height="65" fill="#e6efde"/><rect x="1078.6" y="935" width="60.3" height="65" fill="#e5eee0"/><rect x="1138.9" y="935" width="60.3" height="65" fill="#e4eee0"/><rect x="1199.2" y="935" width="60.3" height="65" fill="#eaf0d9"/><rect x="1259.5" y="935" width="60.3" height="65" fill="#fad697"/><rect x="1319.8" y="935" width="60.3" height="65" fill="#f8c98a"/><rect x="1380.1" y="935" width="60.3" height="65" fill="#f8efc0"/><rect x="1440.4" y="935" width="60.3" height="65" fill="#fae8b0"/>
<!-- b7 1000-1035 -->
<rect x="1018.3" y="1000" width="60.3" height="35" fill="#eef1d6"/><rect x="1078.6" y="1000" width="60.3" height="35" fill="#f2f2d2"/><rect x="1138.9" y="1000" width="60.3" height="35" fill="#f2f1d2"/><rect x="1199.2" y="1000" width="60.3" height="35" fill="#f3f1cf"/><rect x="1259.5" y="1000" width="60.3" height="35" fill="#f4ecc0"/><rect x="1319.8" y="1000" width="60.3" height="35" fill="#f9d191"/><rect x="1380.1" y="1000" width="60.3" height="35" fill="#e8efdb"/><rect x="1440.4" y="1000" width="60.3" height="35" fill="#eaf0d9"/>
<!-- b8 1035-1083 -->
<rect x="1018.3" y="1035" width="60.3" height="48" fill="#eff1d4"/><rect x="1078.6" y="1035" width="60.3" height="48" fill="#f4f2cf"/><rect x="1138.9" y="1035" width="60.3" height="48" fill="#eef1d6"/><rect x="1199.2" y="1035" width="60.3" height="48" fill="#eef1d5"/><rect x="1259.5" y="1035" width="60.3" height="48" fill="#f8c98a"/><rect x="1319.8" y="1035" width="60.3" height="48" fill="#f7c283"/><rect x="1380.1" y="1035" width="60.3" height="48" fill="#e9f0da"/><rect x="1440.4" y="1035" width="60.3" height="48" fill="#e4eddf"/>
<!-- b9 1083-1140 -->
<rect x="1018.3" y="1083" width="60.3" height="57" fill="#fbdd9f"/><rect x="1078.6" y="1083" width="60.3" height="57" fill="#fbf0bf"/><rect x="1138.9" y="1083" width="60.3" height="57" fill="#f9c98b"/><rect x="1199.2" y="1083" width="60.3" height="57" fill="#fbeab3"/><rect x="1259.5" y="1083" width="60.3" height="57" fill="#e1ece2"/><rect x="1319.8" y="1083" width="60.3" height="57" fill="#dcebe8"/><rect x="1380.1" y="1083" width="60.3" height="57" fill="#e5eede"/><rect x="1440.4" y="1083" width="60.3" height="57" fill="#e3eedf"/>
<!-- b10 1140-1190 -->
<rect x="1018.3" y="1140" width="60.3" height="50" fill="#fbe4a8"/><rect x="1078.6" y="1140" width="60.3" height="50" fill="#faefbf"/><rect x="1138.9" y="1140" width="60.3" height="50" fill="#f9cf90"/><rect x="1199.2" y="1140" width="60.3" height="50" fill="#fcefbc"/><rect x="1259.5" y="1140" width="60.3" height="50" fill="#dfebe4"/><rect x="1319.8" y="1140" width="60.3" height="50" fill="#dfece4"/><rect x="1380.1" y="1140" width="60.3" height="50" fill="#e8efdb"/><rect x="1440.4" y="1140" width="60.3" height="50" fill="#e2ede2"/>
<!-- b11 1190-1245 -->
<rect x="1018.3" y="1190" width="60.3" height="55" fill="#e4eee0"/><rect x="1078.6" y="1190" width="60.3" height="55" fill="#eef2d8"/><rect x="1138.9" y="1190" width="60.3" height="55" fill="#dfebe4"/><rect x="1199.2" y="1190" width="60.3" height="55" fill="#e7efdc"/><rect x="1259.5" y="1190" width="60.3" height="55" fill="#f8f2c8"/><rect x="1319.8" y="1190" width="60.3" height="55" fill="#f9e0a4"/><rect x="1380.1" y="1190" width="60.3" height="55" fill="#f9d597"/><rect x="1440.4" y="1190" width="60.3" height="55" fill="#f8d597"/>
<!-- b12 1245-1327 -->
<rect x="1018.3" y="1245" width="60.3" height="82" fill="#e6efde"/><rect x="1078.6" y="1245" width="60.3" height="82" fill="#ebf0da"/><rect x="1138.9" y="1245" width="60.3" height="82" fill="#e8f0dc"/><rect x="1199.2" y="1245" width="60.3" height="82" fill="#eff2d6"/><rect x="1259.5" y="1245" width="60.3" height="82" fill="#f7f2ca"/><rect x="1319.8" y="1245" width="60.3" height="82" fill="#f6f1c8"/><rect x="1380.1" y="1245" width="60.3" height="82" fill="#f8c386"/><rect x="1440.4" y="1245" width="60.3" height="82" fill="#f8c58a"/>
<!-- accents -->
<rect x="1078.6" y="704" width="60.3" height="8" fill="#f7b676"/>
<rect x="1138.9" y="813" width="60.3" height="9" fill="#f6b171"/>
<rect x="1199.2" y="690" width="60.3" height="6" fill="#f8bd7c"/>
<rect x="1380.1" y="841" width="30.15" height="8" fill="#ea6f48"/>
<rect x="1410.25" y="855" width="30.15" height="10" fill="#f1925e"/>
<rect x="1319.8" y="1035" width="30.15" height="10" fill="#ec7a4e"/>
<rect x="1138.9" y="1180" width="30.15" height="8" fill="#e9603d"/>
<rect x="1138.9" y="1215" width="30.15" height="15" fill="#c9dfea"/>
<rect x="1018.3" y="1190" width="30.15" height="30" fill="#d8e8ea"/>
<rect x="1380.1" y="1240" width="30.15" height="10" fill="#f5a56b"/>
<rect x="1470.55" y="1255" width="30.15" height="14" fill="#f3a066"/>
<rect x="1380.1" y="680" width="30.15" height="12" fill="#c4dcec"/>
<rect x="1410.25" y="665" width="60.3" height="10" fill="#c9dfec"/>
<rect x="1259.5" y="755" width="60.3" height="8" fill="#cde1ec"/>
<rect x="1138.9" y="939" width="30.15" height="14" fill="#c4dbe9"/>
</g>
<g shape-rendering="crispEdges">
<rect x="1018.3" y="661" width="60.3" height="666" fill="url(#hsA)"/><rect x="1078.6" y="661" width="60.3" height="666" fill="url(#hsB)"/><rect x="1138.9" y="661" width="60.3" height="666" fill="url(#hsA)"/><rect x="1199.2" y="661" width="60.3" height="666" fill="url(#hsB)"/><rect x="1259.5" y="661" width="60.3" height="666" fill="url(#hsA)"/><rect x="1319.8" y="661" width="60.3" height="666" fill="url(#hsB)"/><rect x="1380.1" y="661" width="60.3" height="666" fill="url(#hsA)"/><rect x="1440.4" y="661" width="60.3" height="666" fill="url(#hsB)"/>
</g>
<rect x="1525" y="1172" width="29" height="153" fill="url(#cbar)"/>
<g font-size="13" text-anchor="end" fill="#222">
<text x="1579" y="1179">3</text><text x="1579" y="1202">2</text><text x="1579" y="1225">1</text><text x="1579" y="1248">0</text><text x="1579" y="1272">−1</text><text x="1579" y="1295">−2</text><text x="1579" y="1318">−3</text>
</g>
<g stroke="#000" stroke-width="1.8">
<line x1="1023.7" y1="1345" x2="1076.6" y2="1345"/><line x1="1084.6" y1="1345" x2="1138.6" y2="1345"/><line x1="1149" y1="1345" x2="1200.5" y2="1345"/><line x1="1208.5" y1="1345" x2="1260.3" y2="1345"/><line x1="1271" y1="1345" x2="1324" y2="1345"/><line x1="1330.8" y1="1345" x2="1382" y2="1345"/><line x1="1391" y1="1345" x2="1443" y2="1345"/><line x1="1451" y1="1345" x2="1504" y2="1345"/>
<line x1="1030" y1="1384.5" x2="1140" y2="1384.5"/><line x1="1149" y1="1384.5" x2="1261.4" y2="1384.5"/><line x1="1271" y1="1384.5" x2="1382" y2="1384.5"/><line x1="1390" y1="1384.5" x2="1504" y2="1384.5"/>
<line x1="1030" y1="1419" x2="1256" y2="1419"/><line x1="1281.5" y1="1419" x2="1502" y2="1419"/>
</g>
<g font-size="15" text-anchor="middle">
<text transform="translate(1052,1370) rotate(-38)">Contr.</text><text transform="translate(1112,1372) rotate(-38)">KO</text>
<text transform="translate(1175.6,1370) rotate(-38)">Contr.</text><text transform="translate(1223,1372) rotate(-38)">KO</text>
<text transform="translate(1289.5,1370) rotate(-38)">Contr.</text><text transform="translate(1345,1372) rotate(-38)">KO</text>
<text transform="translate(1411,1370) rotate(-38)">Contr.</text><text transform="translate(1469.5,1372) rotate(-38)">KO</text>
<text x="1083" y="1408">CD62L+</text><text x="1197" y="1408">CD62L+</text><text x="1337" y="1408">CX3CR1+</text><text x="1452.5" y="1408">CD101+</text>
<text x="1153" y="1446">TPEX cells</text><text x="1393" y="1446">TEX cells</text>
</g>

<!-- ================= PANEL D ================= -->
<text x="15" y="1500" font-size="52">d</text>
<g font-size="25" text-anchor="middle">
<text x="251" y="1493" textLength="222" lengthAdjust="spacingAndGlyphs">Proportion of ATAC</text>
<text x="250" y="1523" textLength="213" lengthAdjust="spacingAndGlyphs">peaks overlapping</text>
<text x="251" y="1553" textLength="223" lengthAdjust="spacingAndGlyphs">SATB1 ChIP peaks</text>
</g>
<rect x="192" y="1591" width="27" height="218" fill="#555" stroke="#d62728" stroke-width="1.5"/>
<rect x="241" y="1732" width="28" height="77" fill="#555" stroke="#d62728" stroke-width="1.5"/>
<g stroke="#000" stroke-width="1.5">
<line x1="172" y1="1570" x2="172" y2="1810"/><line x1="169" y1="1809" x2="292" y2="1809"/>
<line x1="168" y1="1617" x2="172" y2="1617"/><line x1="168" y1="1682" x2="172" y2="1682"/><line x1="168" y1="1746" x2="172" y2="1746"/><line x1="168" y1="1809" x2="172" y2="1809"/>
<line x1="206" y1="1809" x2="206" y2="1814"/><line x1="255.5" y1="1809" x2="255.5" y2="1814"/>
</g>
<g font-size="25" text-anchor="end">
<text x="161" y="1626" textLength="44" lengthAdjust="spacingAndGlyphs">0.03</text><text x="161" y="1691" textLength="44" lengthAdjust="spacingAndGlyphs">0.02</text><text x="161" y="1755" textLength="44" lengthAdjust="spacingAndGlyphs">0.01</text><text x="163" y="1818">0</text>
</g>
<text x="191" y="1842" font-size="26">T<tspan font-size="15" dy="8">PEX</tspan></text>
<text x="250" y="1842" font-size="26">T<tspan font-size="15" dy="8">EX</tspan></text>

<!-- ================= PANEL F ================= -->
<text x="462" y="1500" font-size="52">f</text>
<text x="530" y="1493" font-size="19" font-weight="bold" textLength="374" lengthAdjust="spacingAndGlyphs">Volcano plot (ATAC seq, TPEX KO vs WT )</text>
<g stroke="#e9e9e9" stroke-width="2">
<line x1="537.5" y1="1522" x2="537.5" y2="1796"/><line x1="587.5" y1="1522" x2="587.5" y2="1796"/><line x1="637" y1="1522" x2="637" y2="1796"/><line x1="687" y1="1522" x2="687" y2="1796"/><line x1="736" y1="1522" x2="736" y2="1796"/><line x1="786" y1="1522" x2="786" y2="1796"/><line x1="836" y1="1522" x2="836" y2="1796"/><line x1="887" y1="1522" x2="887" y2="1796"/>
<line x1="516" y1="1555" x2="928" y2="1555"/><line x1="516" y1="1593" x2="928" y2="1593"/><line x1="516" y1="1631" x2="928" y2="1631"/><line x1="516" y1="1669" x2="928" y2="1669"/><line x1="516" y1="1707" x2="928" y2="1707"/><line x1="516" y1="1745" x2="928" y2="1745"/><line x1="516" y1="1783" x2="928" y2="1783"/>
</g>
<g stroke="#000" stroke-width="1.5">
<line x1="516" y1="1522" x2="516" y2="1797"/><line x1="515" y1="1796" x2="928" y2="1796"/>
<line x1="512" y1="1555" x2="516" y2="1555"/><line x1="512" y1="1631" x2="516" y2="1631"/><line x1="512" y1="1707" x2="516" y2="1707"/><line x1="512" y1="1783" x2="516" y2="1783"/>
<line x1="587.5" y1="1796" x2="587.5" y2="1800"/><line x1="687" y1="1796" x2="687" y2="1800"/><line x1="786" y1="1796" x2="786" y2="1800"/><line x1="887" y1="1796" x2="887" y2="1800"/>
</g>
<g stroke="#000" stroke-width="1.6" stroke-dasharray="9,6">
<line x1="662" y1="1522" x2="662" y2="1796"/><line x1="712" y1="1522" x2="712" y2="1796"/><line x1="516" y1="1733.7" x2="928" y2="1733.7"/>
</g>
<g>
<circle cx="609.8" cy="1745" r="4" fill="#8fcf9f"/><circle cx="614.7" cy="1754.3" r="4" fill="#8fcf9f"/><circle cx="637.5" cy="1765" r="4" fill="#8fcf9f"/><circle cx="650.8" cy="1770" r="4" fill="#8fcf9f"/><circle cx="720" cy="1773.3" r="4" fill="#8fcf9f"/><circle cx="827.4" cy="1775.3" r="4" fill="#8fcf9f"/><circle cx="834" cy="1745" r="4" fill="#8fcf9f"/>
<circle cx="679.1" cy="1777" r="4" fill="#999"/><circle cx="681.6" cy="1779" r="4" fill="#999"/><circle cx="684" cy="1782" r="4" fill="#888"/><circle cx="699" cy="1770" r="4" fill="#999"/><circle cx="703.9" cy="1761" r="4" fill="#999"/><circle cx="703.9" cy="1777.3" r="4" fill="#999"/>
<circle cx="723.7" cy="1724.3" r="4" fill="#f09aa0"/>
</g>
<text x="723" y="1711" font-size="18" textLength="90" lengthAdjust="spacingAndGlyphs"><tspan font-style="italic">Gzmb</tspan> TSS</text>
<g font-size="20" text-anchor="end"><text x="506" y="1562">6</text><text x="506" y="1638">4</text><text x="506" y="1714">2</text><text x="506" y="1790">0</text></g>
<g font-size="20" text-anchor="middle"><text x="587.5" y="1820">-2</text><text x="687" y="1820">0</text><text x="786" y="1820">2</text><text x="887" y="1820">4</text></g>
<text x="619.5" y="1842" font-size="19" textLength="135.5" lengthAdjust="spacingAndGlyphs">Log<tspan font-size="12" dy="5">2</tspan><tspan dy="-5"> fold change</tspan></text>
<text transform="translate(488,1668) rotate(-90)" font-size="19" text-anchor="middle">– Log<tspan font-size="12" dy="5">10</tspan><tspan dy="-5" font-style="italic">P</tspan></text>

<!-- ================= PANEL E ================= -->
<text x="16" y="1912" font-size="58">e</text>
<g font-size="19" font-weight="bold">
<text x="84" y="1918" textLength="347" lengthAdjust="spacingAndGlyphs">CD62L+ TPEX, SATB1-KO vs Control</text>
<text x="453" y="1918" textLength="341" lengthAdjust="spacingAndGlyphs">CD62L- TPEX, SATB1-KO vs Control</text>
<text x="75" y="2320" textLength="348" lengthAdjust="spacingAndGlyphs">CX3CR1+ TEX, SATB1-KO vs Control</text>
<text x="465" y="2321" textLength="331" lengthAdjust="spacingAndGlyphs">CD101+ TEX, SATB1-KO vs Control</text>
</g>
<!-- plot 1 -->
<g stroke="#efefef" stroke-width="1.2">
<line x1="112" y1="1930" x2="112" y2="2254"/><line x1="186.6" y1="1930" x2="186.6" y2="2254"/><line x1="261" y1="1930" x2="261" y2="2254"/><line x1="335" y1="1930" x2="335" y2="2254"/><line x1="409" y1="1930" x2="409" y2="2254"/>
<line x1="84" y1="1952" x2="426" y2="1952"/><line x1="84" y1="2033" x2="426" y2="2033"/><line x1="84" y1="2115" x2="426" y2="2115"/><line x1="84" y1="2198" x2="426" y2="2198"/>
</g>
<g stroke="#e8e8e8" stroke-width="2.5">
<line x1="150" y1="1930" x2="150" y2="2254"/><line x1="223" y1="1930" x2="223" y2="2254"/><line x1="298" y1="1930" x2="298" y2="2254"/><line x1="371.6" y1="1930" x2="371.6" y2="2254"/>
<line x1="84" y1="1992" x2="426" y2="1992"/><line x1="84" y1="2074" x2="426" y2="2074"/><line x1="84" y1="2156" x2="426" y2="2156"/><line x1="84" y1="2239" x2="426" y2="2239"/>
</g>
<!-- plot 2 -->
<g stroke="#efefef" stroke-width="1.2">
<line x1="499" y1="1927" x2="499" y2="2253"/><line x1="569" y1="1927" x2="569" y2="2253"/><line x1="638.6" y1="1927" x2="638.6" y2="2253"/><line x1="708.5" y1="1927" x2="708.5" y2="2253"/><line x1="778" y1="1927" x2="778" y2="2253"/>
<line x1="473" y1="1985" x2="793" y2="1985"/><line x1="473" y1="2057" x2="793" y2="2057"/><line x1="473" y1="2130" x2="793" y2="2130"/><line x1="473" y1="2202" x2="793" y2="2202"/>
</g>
<g stroke="#e8e8e8" stroke-width="2.5">
<line x1="534.5" y1="1927" x2="534.5" y2="2253"/><line x1="604.5" y1="1927" x2="604.5" y2="2253"/><line x1="674" y1="1927" x2="674" y2="2253"/><line x1="742.7" y1="1927" x2="742.7" y2="2253"/>
<line x1="473" y1="1949" x2="793" y2="1949"/><line x1="473" y1="2022" x2="793" y2="2022"/><line x1="473" y1="2093" x2="793" y2="2093"/><line x1="473" y1="2166" x2="793" y2="2166"/><line x1="473" y1="2238" x2="793" y2="2238"/>
</g>
<!-- plot 3 -->
<g stroke="#efefef" stroke-width="1.2">
<line x1="113" y1="2342" x2="113" y2="2667"/><line x1="182" y1="2342" x2="182" y2="2667"/><line x1="251" y1="2342" x2="251" y2="2667"/><line x1="320.6" y1="2342" x2="320.6" y2="2667"/><line x1="390" y1="2342" x2="390" y2="2667"/>
<line x1="80" y1="2430" x2="400" y2="2430"/><line x1="80" y1="2519" x2="400" y2="2519"/><line x1="80" y1="2608" x2="400" y2="2608"/>
</g>
<g stroke="#e8e8e8" stroke-width="2.5">
<line x1="148" y1="2342" x2="148" y2="2667"/><line x1="216.5" y1="2342" x2="216.5" y2="2667"/><line x1="286.5" y1="2342" x2="286.5" y2="2667"/><line x1="355" y1="2342" x2="355" y2="2667"/>
<line x1="80" y1="2385.7" x2="400" y2="2385.7"/><line x1="80" y1="2475" x2="400" y2="2475"/><line x1="80" y1="2563.7" x2="400" y2="2563.7"/><line x1="80" y1="2653" x2="400" y2="2653"/>
</g>
<!-- plot 4 -->
<g stroke="#efefef" stroke-width="1.2">
<line x1="519" y1="2340" x2="519" y2="2666"/><line x1="632" y1="2340" x2="632" y2="2666"/><line x1="745" y1="2340" x2="745" y2="2666"/>
<line x1="471.5" y1="2389" x2="792" y2="2389"/><line x1="471.5" y1="2494" x2="792" y2="2494"/><line x1="471.5" y1="2599" x2="792" y2="2599"/>
</g>
<g stroke="#e8e8e8" stroke-width="2.5">
<line x1="575.5" y1="2340" x2="575.5" y2="2666"/><line x1="688.5" y1="2340" x2="688.5" y2="2666"/>
<line x1="471.5" y1="2441.7" x2="792" y2="2441.7"/><line x1="471.5" y1="2546" x2="792" y2="2546"/><line x1="471.5" y1="2651.7" x2="792" y2="2651.7"/>
</g>
<!-- axes e -->
<g stroke="#222" stroke-width="1.2">
<line x1="84" y1="1930" x2="84" y2="2254"/><line x1="84" y1="2254" x2="426" y2="2254"/>
<line x1="473" y1="1927" x2="473" y2="2253"/><line x1="473" y1="2253" x2="793" y2="2253"/>
<line x1="80.4" y1="2342" x2="80.4" y2="2667"/><line x1="80.4" y1="2667" x2="399.5" y2="2667"/>
<line x1="471.5" y1="2340" x2="471.5" y2="2666"/><line x1="471.5" y1="2666" x2="792" y2="2666"/>
</g>
<g stroke="#333" stroke-width="1" stroke-dasharray="6,4">
<line x1="179" y1="1930" x2="179" y2="2254"/><line x1="268" y1="1930" x2="268" y2="2254"/><line x1="84" y1="2233" x2="426" y2="2233"/>
<line x1="562" y1="1927" x2="562" y2="2253"/><line x1="645.5" y1="1927" x2="645.5" y2="2253"/><line x1="473" y1="2231" x2="793" y2="2231"/>
<line x1="268.6" y1="2342" x2="268.6" y2="2667" stroke-dasharray="4,3"/><line x1="80.4" y1="2644.3" x2="399.5" y2="2644.3"/>
<line x1="541" y1="2340" x2="541" y2="2666"/><line x1="471.5" y1="2630" x2="792" y2="2630"/>
</g>
<g stroke="#888" stroke-width="1.5" stroke-dasharray="10,5">
<line x1="164.5" y1="2342" x2="164.5" y2="2667"/><line x1="608.6" y1="2340" x2="608.6" y2="2666"/>
</g>
<g font-size="8" fill="#555">
<g text-anchor="end"><text x="72" y="1995">75</text><text x="72" y="2077">50</text><text x="72" y="2159">25</text><text x="72" y="2242">0</text>
<text x="463" y="1952">80</text><text x="463" y="2025">60</text><text x="463" y="2096">40</text><text x="463" y="2169">20</text><text x="463" y="2241">0</text>
<text x="68" y="2389">60</text><text x="68" y="2478">40</text><text x="68" y="2567">20</text><text x="68" y="2656">0</text>
<text x="460" y="2445">20</text><text x="460" y="2549">10</text><text x="460" y="2655">0</text></g>
<g text-anchor="middle"><text x="150" y="2270">−2.5</text><text x="223" y="2270">0.0</text><text x="298" y="2270">2.5</text><text x="371.6" y="2270">5.0</text>
<text x="534.5" y="2270">−2.5</text><text x="604.5" y="2270">0.0</text><text x="674" y="2270">2.5</text><text x="742.7" y="2270">5.0</text>
<text x="148" y="2686">−2</text><text x="216.5" y="2686">0</text><text x="286.5" y="2686">2</text><text x="355" y="2686">4</text>
<text x="575.5" y="2685">0</text><text x="688.5" y="2685">5</text></g>
</g>
<!-- points e -->
<g fill="#555" opacity=".85">
<circle cx="240" cy="2238" r="2.6"/><circle cx="244" cy="2239" r="2.6"/><circle cx="248" cy="2238" r="2.6"/><circle cx="252" cy="2239" r="2.6"/><circle cx="256" cy="2238" r="2.6"/><circle cx="260" cy="2239" r="2.6"/><circle cx="264" cy="2238" r="2.6"/><circle cx="268" cy="2239" r="2.6"/><circle cx="272" cy="2238" r="2.6"/><circle cx="276" cy="2239" r="2.6"/><circle cx="280" cy="2238" r="2.6"/><circle cx="284" cy="2239" r="2.6"/><circle cx="288" cy="2238" r="2.6"/><circle cx="292" cy="2239" r="2.6"/><circle cx="296" cy="2238" r="2.6"/><circle cx="196" cy="2238" r="2.6"/><circle cx="200" cy="2239" r="2.6"/><circle cx="204" cy="2238" r="2.6"/><circle cx="208" cy="2239" r="2.6"/><circle cx="212" cy="2238" r="2.6"/><circle cx="236" cy="2239" r="2.6"/>
<circle cx="617" cy="2238" r="2.6"/><circle cx="621" cy="2239" r="2.6"/><circle cx="625" cy="2238" r="2.6"/><circle cx="629" cy="2239" r="2.6"/><circle cx="633" cy="2238" r="2.6"/><circle cx="637" cy="2239" r="2.6"/><circle cx="641" cy="2238" r="2.6"/><circle cx="645" cy="2239" r="2.6"/><circle cx="558" cy="2238" r="2.6"/><circle cx="563" cy="2239" r="2.6"/><circle cx="568" cy="2238" r="2.6"/><circle cx="573" cy="2239" r="2.6"/><circle cx="578" cy="2238" r="2.6"/><circle cx="583" cy="2239" r="2.6"/><circle cx="588" cy="2238" r="2.6"/>
<circle cx="178.7" cy="2646.7" r="2.6"/><circle cx="184" cy="2647" r="2.6"/><circle cx="189" cy="2646.7" r="2.6"/><circle cx="195.5" cy="2647" r="2.6"/><circle cx="239" cy="2646" r="2.6"/><circle cx="243" cy="2647" r="2.6"/><circle cx="247" cy="2646" r="2.6"/><circle cx="251" cy="2647" r="2.6"/><circle cx="257.5" cy="2647" r="2.6"/><circle cx="262.8" cy="2646" r="2.6"/>
<circle cx="594" cy="2634" r="2.6"/><circle cx="597.6" cy="2635" r="2.6"/><circle cx="600.8" cy="2634" r="2.6"/><circle cx="548.2" cy="2636.7" r="2.6"/>
</g>
<g fill="#5b7fd6" opacity=".8">
<circle cx="243" cy="2236" r="2.6"/><circle cx="246" cy="2232" r="2.6"/><circle cx="249" cy="2229" r="2.6"/><circle cx="252" cy="2226" r="2.6"/><circle cx="255" cy="2230" r="2.6"/><circle cx="258" cy="2224" r="2.6"/><circle cx="261" cy="2220" r="2.6"/><circle cx="263" cy="2228" r="2.6"/><circle cx="266" cy="2216" r="2.6"/><circle cx="268" cy="2222" r="2.6"/><circle cx="270" cy="2212" r="2.6"/><circle cx="272" cy="2232" r="2.6"/><circle cx="275" cy="2226" r="2.6"/><circle cx="277" cy="2218" r="2.6"/><circle cx="280" cy="2210" r="2.6"/><circle cx="282" cy="2230" r="2.6"/><circle cx="250" cy="2237" r="2.6"/><circle cx="260" cy="2236" r="2.6"/><circle cx="256" cy="2233" r="2.6"/><circle cx="264" cy="2234" r="2.6"/><circle cx="186" cy="2230" r="2.6"/><circle cx="190" cy="2233" r="2.6"/><circle cx="193" cy="2226" r="2.6"/><circle cx="191" cy="2222" r="2.6"/>
<circle cx="620" cy="2232" r="2.6"/><circle cx="624" cy="2227" r="2.6"/><circle cx="627" cy="2222" r="2.6"/><circle cx="630" cy="2230" r="2.6"/><circle cx="633" cy="2218" r="2.6"/><circle cx="636" cy="2226" r="2.6"/><circle cx="639" cy="2215" r="2.6"/><circle cx="641" cy="2231" r="2.6"/><circle cx="644" cy="2222" r="2.6"/><circle cx="638.6" cy="2180" r="2.6"/><circle cx="646.5" cy="2213" r="2.6"/><circle cx="555" cy="2230" r="2.6"/><circle cx="560" cy="2226" r="2.6"/><circle cx="565" cy="2229" r="2.6"/><circle cx="570" cy="2222" r="2.6"/><circle cx="572" cy="2216" r="2.6"/><circle cx="576" cy="2228" r="2.6"/><circle cx="582" cy="2230" r="2.6"/><circle cx="587" cy="2232" r="2.6"/>
<circle cx="173.4" cy="2635" r="2.6"/><circle cx="169" cy="2641.7" r="2.6"/><circle cx="181.3" cy="2639.3" r="2.6"/><circle cx="185" cy="2636.7" r="2.6"/><circle cx="183" cy="2643.3" r="2.6"/><circle cx="241.8" cy="2640" r="2.6"/><circle cx="247" cy="2636.7" r="2.6"/><circle cx="251" cy="2635" r="2.6"/><circle cx="253" cy="2640.7" r="2.6"/><circle cx="257.5" cy="2638.3" r="2.6"/><circle cx="262.8" cy="2636.7" r="2.6"/><circle cx="244.4" cy="2644" r="2.6"/>
<circle cx="543" cy="2583.3" r="2.6"/><circle cx="546.6" cy="2621.7" r="2.6"/><circle cx="550.8" cy="2616.7" r="2.6"/><circle cx="553.4" cy="2618.3" r="2.6"/><circle cx="603.4" cy="2578.3" r="2.6"/><circle cx="594" cy="2628.3" r="2.6"/><circle cx="591.3" cy="2627.3" r="2.6"/>
</g>
<g fill="#e0393e" opacity=".85">
<circle cx="270" cy="2232" r="2.6"/><circle cx="274" cy="2225" r="2.6"/><circle cx="278" cy="2220" r="2.6"/><circle cx="282" cy="2214" r="2.6"/><circle cx="285" cy="2228" r="2.6"/><circle cx="288" cy="2222" r="2.6"/><circle cx="290" cy="2208" r="2.6"/><circle cx="293" cy="2200" r="2.6"/><circle cx="296" cy="2218" r="2.6"/><circle cx="298" cy="2230" r="2.6"/><circle cx="300" cy="2198" r="2.6"/><circle cx="302" cy="2210" r="2.6"/><circle cx="294" cy="2188" r="2.6"/><circle cx="303" cy="2194" r="2.6"/><circle cx="306" cy="2224" r="2.6"/><circle cx="310" cy="2214" r="2.6"/><circle cx="315" cy="2232" r="2.6"/><circle cx="318" cy="2205" r="2.6"/><circle cx="280" cy="2234" r="2.6"/><circle cx="287" cy="2236" r="2.6"/><circle cx="300" cy="2236" r="2.6"/><circle cx="292" cy="2233" r="2.6"/><circle cx="304" cy="2217" r="2.6"/><circle cx="297" cy="2177" r="2.6"/><circle cx="352" cy="1962" r="2.6"/><circle cx="312" cy="2117" r="2.6"/><circle cx="300" cy="2133" r="2.6"/><circle cx="274" cy="2152" r="2.6"/><circle cx="317" cy="2152" r="2.6"/><circle cx="365" cy="2154" r="2.6"/><circle cx="303" cy="2163" r="2.6"/>
<circle cx="647" cy="2230" r="2.6"/><circle cx="651" cy="2224" r="2.6"/><circle cx="655" cy="2220" r="2.6"/><circle cx="659" cy="2228" r="2.6"/><circle cx="662" cy="2217" r="2.6"/><circle cx="666" cy="2225" r="2.6"/><circle cx="670" cy="2219" r="2.6"/><circle cx="674" cy="2230" r="2.6"/><circle cx="678" cy="2222" r="2.6"/><circle cx="682" cy="2232" r="2.6"/><circle cx="658.6" cy="2173" r="2.6"/><circle cx="693.8" cy="2200.7" r="2.6"/><circle cx="725" cy="2224" r="2.6"/><circle cx="724" cy="1959" r="2.6"/><circle cx="666" cy="2204" r="2.6"/><circle cx="672" cy="2196" r="2.6"/><circle cx="680" cy="2184" r="2.6"/><circle cx="677" cy="2160" r="2.6"/><circle cx="735" cy="2160" r="2.6"/>
<circle cx="163" cy="2642.7" r="2.6"/><circle cx="281" cy="2607" r="2.6"/><circle cx="290.6" cy="2616.7" r="2.6"/><circle cx="277.5" cy="2629.3" r="2.6"/><circle cx="294.3" cy="2638.3" r="2.6"/><circle cx="297" cy="2640.7" r="2.6"/><circle cx="302" cy="2641.7" r="2.6"/><circle cx="333.8" cy="2378.3" r="2.6"/><circle cx="331" cy="2607.7" r="2.6"/>
<circle cx="622.8" cy="2596.7" r="2.6"/><circle cx="633.3" cy="2621.7" r="2.6"/><circle cx="641.2" cy="2408.3" r="2.6"/>
</g>
<g fill="#3a9e44" opacity=".8">
<circle cx="142" cy="2238" r="2.6"/><circle cx="146" cy="2237" r="2.6"/><circle cx="150" cy="2238" r="2.6"/><circle cx="155" cy="2237" r="2.6"/><circle cx="160" cy="2238" r="2.6"/><circle cx="165" cy="2237" r="2.6"/><circle cx="170" cy="2238" r="2.6"/><circle cx="300" cy="2238" r="2.6"/><circle cx="305" cy="2237" r="2.6"/><circle cx="310" cy="2238" r="2.6"/><circle cx="315" cy="2237" r="2.6"/>
<circle cx="531" cy="2236" r="2.6"/><circle cx="537" cy="2237" r="2.6"/><circle cx="543" cy="2236" r="2.6"/><circle cx="549" cy="2237" r="2.6"/><circle cx="555" cy="2236" r="2.6"/><circle cx="646" cy="2237" r="2.6"/><circle cx="654" cy="2236" r="2.6"/><circle cx="662" cy="2237" r="2.6"/><circle cx="670" cy="2236" r="2.6"/><circle cx="678" cy="2237" r="2.6"/>
<circle cx="156" cy="2646.7" r="2.6"/><circle cx="161.4" cy="2646" r="2.6"/><circle cx="286.5" cy="2646.7" r="2.6"/>
<circle cx="523" cy="2636.7" r="2.6"/><circle cx="536" cy="2636" r="2.6"/><circle cx="621.3" cy="2636.7" r="2.6"/><circle cx="632.3" cy="2636" r="2.6"/><circle cx="742.7" cy="2633.3" r="2.6"/><circle cx="619" cy="2630.7" r="2.6"/>
</g>
<g font-size="14">
<text x="331" y="1966.5" textLength="45" lengthAdjust="spacingAndGlyphs">Mir7223</text>
<text x="291" y="2121.5" textLength="48" lengthAdjust="spacingAndGlyphs">Tm4sf19</text>
<text x="274" y="2137.5" textLength="54" lengthAdjust="spacingAndGlyphs">Trp53inp1</text>
<text x="255" y="2157.5" textLength="36" lengthAdjust="spacingAndGlyphs">Hacd3</text>
<text x="302" y="2156.5" textLength="29" lengthAdjust="spacingAndGlyphs">Usp5</text>
<text x="338" y="2158.5" textLength="55" lengthAdjust="spacingAndGlyphs">Gm19276</text>
<text x="284" y="2167.5" textLength="39" lengthAdjust="spacingAndGlyphs">Kdm6b</text>
<text x="286" y="2190.5" textLength="44" lengthAdjust="spacingAndGlyphs">Pitpnm1</text>
<text x="226" y="2204.5" textLength="91" lengthAdjust="spacingAndGlyphs">A930001A20Rik</text>
<text x="258" y="2215.5" textLength="36" lengthAdjust="spacingAndGlyphs">Rgs22</text>
<text x="268" y="2225.5" textLength="32" lengthAdjust="spacingAndGlyphs">Amz2</text>
<text x="322" y="2225.5" textLength="38" lengthAdjust="spacingAndGlyphs">Txnrd1</text>
<text x="161" y="2234.5" textLength="36" lengthAdjust="spacingAndGlyphs">Casp3</text>
<text x="260" y="2237.5" textLength="36" lengthAdjust="spacingAndGlyphs">Pde7b</text>
<text x="314" y="2236.5" textLength="34" lengthAdjust="spacingAndGlyphs">Ptpn4</text>
<text x="703" y="1964.5" textLength="42" lengthAdjust="spacingAndGlyphs">Mir7223</text>
<text x="658" y="2131.5" textLength="46" lengthAdjust="spacingAndGlyphs">Tm4sf19</text>
<text x="672" y="2160.5" textLength="27" lengthAdjust="spacingAndGlyphs">Usp5</text>
<text x="711" y="2164.5" textLength="51" lengthAdjust="spacingAndGlyphs">Gm19276</text>
<text x="655" y="2171.5" textLength="38" lengthAdjust="spacingAndGlyphs">Kdm6b</text>
<text x="667.5" y="2186.5" textLength="41" lengthAdjust="spacingAndGlyphs">Pitpnm1</text>
<text x="637.5" y="2196.5" textLength="52" lengthAdjust="spacingAndGlyphs">Gm19723</text>
<text x="629" y="2210.5" textLength="52" lengthAdjust="spacingAndGlyphs">Gm17684</text>
<text x="640" y="2227.5" textLength="29" lengthAdjust="spacingAndGlyphs">Amz2</text>
<text x="683" y="2229.5" textLength="32" lengthAdjust="spacingAndGlyphs">Ston2</text>
<text x="527" y="2233.5" textLength="51" lengthAdjust="spacingAndGlyphs">Gm53059</text>
<text x="313" y="2382.5" textLength="42" lengthAdjust="spacingAndGlyphs">Mir7223</text>
<text x="262" y="2536.5" textLength="34" lengthAdjust="spacingAndGlyphs">Hacd3</text>
<text x="256" y="2597.5" textLength="50" lengthAdjust="spacingAndGlyphs">Trp53inp1</text>
<text x="304" y="2612.5" textLength="52" lengthAdjust="spacingAndGlyphs">Gm19276</text>
<text x="261" y="2619.5" textLength="34" lengthAdjust="spacingAndGlyphs">Mir701</text>
<text x="256.5" y="2630.5" textLength="42" lengthAdjust="spacingAndGlyphs">Pitpnm1</text>
<text x="259" y="2643.5" textLength="28.5" lengthAdjust="spacingAndGlyphs">Hunk</text>
<text x="286" y="2649.5" textLength="31" lengthAdjust="spacingAndGlyphs">Calcrl</text>
<text x="131" y="2640.5" textLength="33.5" lengthAdjust="spacingAndGlyphs">Dock7</text>
<text x="628" y="2412.5" textLength="28" lengthAdjust="spacingAndGlyphs">Usp5</text>
<text x="599" y="2600.5" textLength="51" lengthAdjust="spacingAndGlyphs">Gm19276</text>
<text x="587.6" y="2626" textLength="85" lengthAdjust="spacingAndGlyphs">D030025E07Rik</text>
<text x="508" y="2632.5" textLength="25.5" lengthAdjust="spacingAndGlyphs">Tpbg</text>
</g>

<!-- ================= PANEL G ================= -->
<text x="859" y="1898" font-size="58">g</text>
<g transform="translate(840,1840) scale(0.5936,0.33333)">
<g fill="none" stroke="#b3b3b3" stroke-width="1" vector-effect="non-scaling-stroke">
<path vector-effect="non-scaling-stroke" d="M815,625L775,135 M815,625L840,145 M815,625L910,175 M815,625L707,175 M815,625L678,268 M815,625L770,252 M815,625L870,280 M815,625L960,245 M815,625L1038,280 M815,625L715,368 M815,625L800,398 M815,625L985,365 M815,625L908,420 M815,625L998,495 M815,625L938,598 M815,625L1090,742 M815,625L648,762 M815,625L621,843 M815,625L823,870 M815,625L913,970 M815,625L955,943 M815,625L632,885 M815,625L655,995"/>
<path vector-effect="non-scaling-stroke" d="M947,790L1143,448 M947,790L1112,552 M947,790L1090,360 M947,790L1038,280 M947,790L1168,640 M947,790L1157,792 M947,790L648,762 M947,790L938,598 M947,790L955,943 M947,790L1120,1125 M947,790L1048,1150 M947,790L933,1172 M947,790L998,495 M947,790L905,1328 M947,790L1073,1348"/>
<path vector-effect="non-scaling-stroke" d="M422,955L388,490 M422,955L338,497 M422,955L440,512 M422,955L287,545 M422,955L478,595 M422,955L343,608 M422,955L415,623 M422,955L248,610 M422,955L480,705 M422,955L215,685 M422,955L295,708 M422,955L390,758 M422,955L186,772 M422,955L243,818 M422,955L477,820 M422,955L322,863 M422,955L175,878 M422,955L238,958 M422,955L170,977 M422,955L316,1028 M422,955L176,1070 M422,955L481,1055 M422,955L243,1098 M422,955L375,1145 M422,955L452,1173 M422,955L193,1168 M422,955L290,1212 M422,955L222,1253 M422,955L353,1278 M422,955L433,1280 M422,955L257,1322 M422,955L300,1370 M422,955L402,1365 M422,955L350,1395 M422,955L648,762 M422,955L621,843 M422,955L632,885 M422,955L655,995 M422,955L563,1280 M422,955L717,1260"/>
<path vector-effect="non-scaling-stroke" d="M1280,1048L1420,668 M1280,1048L1462,748 M1280,1048L1438,860 M1280,1048L1490,930 M1280,1048L1492,1057 M1280,1048L1450,1145 M1280,1048L1477,1258 M1280,1048L1425,1325 M1280,1048L1408,1423 M1280,1048L1120,1125 M1280,1048L1090,742 M1280,1048L905,1328"/>
<path vector-effect="non-scaling-stroke" d="M717,1260L563,1280 M717,1260L627,1252 M717,1260L655,995 M717,1260L823,870 M717,1260L632,885 M717,1260L621,843 M717,1260L933,1172 M717,1260L514,1718 M717,1260L571,1720 M717,1260L600,1865 M717,1260L653,1887"/>
<path vector-effect="non-scaling-stroke" d="M905,1328L1073,1348 M905,1328L933,1172 M905,1328L1048,1150 M905,1328L1120,1125 M905,1328L955,943 M905,1328L913,970 M905,1328L1105,1435 M905,1328L1098,1540 M905,1328L1043,1550 M905,1328L915,1612 M905,1328L1016,1772 M905,1328L968,1795 M905,1328L917,1817 M905,1328L858,1465 M905,1328L845,1538 M905,1328L748,1450 M905,1328L810,1580"/>
<path vector-effect="non-scaling-stroke" d="M748,1450L858,1465 M748,1450L845,1538 M748,1450L810,1580 M748,1450L716,1652 M748,1450L600,1865 M748,1450L653,1887 M748,1450L716,1883 M748,1450L812,1945 M748,1450L915,1612 M748,1450L717,1260 M748,1450L1073,1348 M748,1450L627,1252"/>
<path vector-effect="non-scaling-stroke" d="M972,2170L812,1945 M972,2170L917,1817 M972,2170L968,1795 M972,2170L1016,1772 M972,2170L1205,2295 M972,2170L1143,2392 M972,2170L1067,2475 M972,2170L975,2522 M972,2170L887,2530 M972,2170L808,2512"/>
</g>
<!-- salmon nodes -->
<g fill="#f8766d">
<ellipse cx="707" cy="175" rx="13.5" ry="24"/><ellipse cx="985" cy="365" rx="13.5" ry="24"/><ellipse cx="998" cy="495" rx="13.5" ry="24"/><ellipse cx="1090" cy="742" rx="13.5" ry="24"/><ellipse cx="632" cy="885" rx="13.5" ry="24"/><ellipse cx="913" cy="970" rx="13.5" ry="24"/><ellipse cx="563" cy="1280" rx="13.5" ry="24"/><ellipse cx="1073" cy="1348" rx="13.5" ry="24"/><ellipse cx="845" cy="1538" rx="13.5" ry="24"/><ellipse cx="810" cy="1580" rx="13.5" ry="24"/><ellipse cx="915" cy="1612" rx="13.5" ry="24"/><ellipse cx="716" cy="1652" rx="13.5" ry="24"/><ellipse cx="514" cy="1718" rx="13.5" ry="24"/><ellipse cx="571" cy="1720" rx="13.5" ry="24"/><ellipse cx="600" cy="1865" rx="13.5" ry="24"/><ellipse cx="653" cy="1887" rx="13.5" ry="24"/><ellipse cx="716" cy="1883" rx="13.5" ry="24"/>
<ellipse cx="388" cy="490" rx="13.5" ry="24"/><ellipse cx="338" cy="497" rx="13.5" ry="24"/><ellipse cx="440" cy="512" rx="13.5" ry="24"/><ellipse cx="287" cy="545" rx="13.5" ry="24"/><ellipse cx="478" cy="595" rx="13.5" ry="24"/><ellipse cx="343" cy="608" rx="13.5" ry="24"/><ellipse cx="415" cy="623" rx="13.5" ry="24"/><ellipse cx="248" cy="610" rx="13.5" ry="24"/><ellipse cx="480" cy="705" rx="13.5" ry="24"/><ellipse cx="215" cy="685" rx="13.5" ry="24"/><ellipse cx="295" cy="708" rx="13.5" ry="24"/><ellipse cx="390" cy="758" rx="13.5" ry="24"/><ellipse cx="186" cy="772" rx="13.5" ry="24"/><ellipse cx="243" cy="818" rx="13.5" ry="24"/><ellipse cx="477" cy="820" rx="13.5" ry="24"/><ellipse cx="322" cy="863" rx="13.5" ry="24"/><ellipse cx="175" cy="878" rx="13.5" ry="24"/><ellipse cx="238" cy="958" rx="13.5" ry="24"/><ellipse cx="170" cy="977" rx="13.5" ry="24"/><ellipse cx="316" cy="1028" rx="13.5" ry="24"/><ellipse cx="176" cy="1070" rx="13.5" ry="24"/><ellipse cx="481" cy="1055" rx="13.5" ry="24"/><ellipse cx="243" cy="1098" rx="13.5" ry="24"/><ellipse cx="375" cy="1145" rx="13.5" ry="24"/><ellipse cx="452" cy="1173" rx="13.5" ry="24"/><ellipse cx="193" cy="1168" rx="13.5" ry="24"/><ellipse cx="290" cy="1212" rx="13.5" ry="24"/><ellipse cx="222" cy="1253" rx="13.5" ry="24"/><ellipse cx="353" cy="1278" rx="13.5" ry="24"/><ellipse cx="433" cy="1280" rx="13.5" ry="24"/><ellipse cx="257" cy="1322" rx="13.5" ry="24"/><ellipse cx="300" cy="1370" rx="13.5" ry="24"/><ellipse cx="402" cy="1365" rx="13.5" ry="24"/><ellipse cx="350" cy="1395" rx="13.5" ry="24"/>
<ellipse cx="1420" cy="668" rx="13.5" ry="24"/><ellipse cx="1462" cy="748" rx="13.5" ry="24"/><ellipse cx="1438" cy="860" rx="13.5" ry="24"/><ellipse cx="1490" cy="930" rx="13.5" ry="24"/><ellipse cx="1492" cy="1057" rx="13.5" ry="24"/><ellipse cx="1450" cy="1145" rx="13.5" ry="24"/><ellipse cx="1477" cy="1258" rx="13.5" ry="24"/><ellipse cx="1425" cy="1325" rx="13.5" ry="24"/><ellipse cx="1408" cy="1423" rx="13.5" ry="24"/>
<!-- split nodes base -->
<ellipse cx="840" cy="145" rx="13.5" ry="24"/><ellipse cx="910" cy="175" rx="13.5" ry="24"/><ellipse cx="678" cy="268" rx="13.5" ry="24"/><ellipse cx="960" cy="245" rx="13.5" ry="24"/><ellipse cx="800" cy="398" rx="13.5" ry="24"/><ellipse cx="648" cy="762" rx="13.5" ry="24"/><ellipse cx="621" cy="843" rx="13.5" ry="24"/><ellipse cx="823" cy="870" rx="13.5" ry="24"/><ellipse cx="655" cy="995" rx="13.5" ry="24"/><ellipse cx="955" cy="943" rx="13.5" ry="24"/><ellipse cx="1120" cy="1125" rx="13.5" ry="24"/><ellipse cx="933" cy="1172" rx="13.5" ry="24"/><ellipse cx="627" cy="1252" rx="13.5" ry="24"/><ellipse cx="858" cy="1465" rx="13.5" ry="24"/><ellipse cx="1043" cy="1550" rx="13.5" ry="24"/><ellipse cx="917" cy="1817" rx="13.5" ry="24"/><ellipse cx="812" cy="1945" rx="13.5" ry="24"/>
<!-- hubs salmon -->
<ellipse cx="422" cy="955" rx="57.3" ry="102"/><ellipse cx="1280" cy="1048" rx="30.3" ry="54"/><ellipse cx="717" cy="1260" rx="30.3" ry="54"/><ellipse cx="748" cy="1450" rx="32.9" ry="58.5"/><ellipse cx="815" cy="625" rx="40.4" ry="72"/><ellipse cx="905" cy="1328" rx="35.4" ry="63"/>
</g>
<g fill="#00bfc4">
<ellipse cx="775" cy="135" rx="13.5" ry="24"/><ellipse cx="770" cy="252" rx="13.5" ry="24"/><ellipse cx="870" cy="280" rx="13.5" ry="24"/><ellipse cx="1038" cy="280" rx="13.5" ry="24"/><ellipse cx="715" cy="368" rx="13.5" ry="24"/><ellipse cx="1090" cy="360" rx="13.5" ry="24"/><ellipse cx="908" cy="420" rx="13.5" ry="24"/><ellipse cx="1143" cy="448" rx="13.5" ry="24"/><ellipse cx="1112" cy="552" rx="13.5" ry="24"/><ellipse cx="938" cy="598" rx="13.5" ry="24"/><ellipse cx="1168" cy="640" rx="13.5" ry="24"/><ellipse cx="1157" cy="792" rx="13.5" ry="24"/><ellipse cx="1048" cy="1150" rx="13.5" ry="24"/><ellipse cx="1105" cy="1435" rx="13.5" ry="24"/><ellipse cx="1098" cy="1540" rx="13.5" ry="24"/><ellipse cx="1016" cy="1772" rx="13.5" ry="24"/><ellipse cx="968" cy="1795" rx="13.5" ry="24"/>
<ellipse cx="1205" cy="2295" rx="13.5" ry="24"/><ellipse cx="1143" cy="2392" rx="13.5" ry="24"/><ellipse cx="1067" cy="2475" rx="13.5" ry="24"/><ellipse cx="975" cy="2522" rx="13.5" ry="24"/><ellipse cx="887" cy="2530" rx="13.5" ry="24"/><ellipse cx="808" cy="2512" rx="13.5" ry="24"/>
<ellipse cx="947" cy="790" rx="31.2" ry="55.5"/><ellipse cx="972" cy="2170" rx="28.6" ry="51"/>
<path d="M840,121A13.5,24 0 0 0 840,169Z M910,151A13.5,24 0 0 0 910,199Z M678,244A13.5,24 0 0 0 678,292Z M960,221A13.5,24 0 0 0 960,269Z M800,374A13.5,24 0 0 0 800,422Z M648,738A13.5,24 0 0 0 648,786Z M621,819A13.5,24 0 0 0 621,867Z M823,846A13.5,24 0 0 0 823,894Z M655,971A13.5,24 0 0 0 655,1019Z M955,919A13.5,24 0 0 0 955,967Z M1120,1101A13.5,24 0 0 0 1120,1149Z M933,1148A13.5,24 0 0 0 933,1196Z M627,1228A13.5,24 0 0 0 627,1276Z M858,1441A13.5,24 0 0 0 858,1489Z M1043,1526A13.5,24 0 0 0 1043,1574Z M917,1793A13.5,24 0 0 0 917,1841Z M812,1921A13.5,24 0 0 0 812,1969Z M815,553A40.4,72 0 0 0 815,697Z M905,1265A35.4,63 0 0 0 905,1391Z"/>
</g>
</g>
<!-- network labels (G coords converted with counter-scale) -->
<g transform="translate(840,1840) scale(0.5936,0.33333)" font-size="8" fill="#333">
<g text-anchor="middle">
<text transform="translate(435,936) scale(1.6846,3)" textLength="130" lengthAdjust="spacingAndGlyphs">HALLMARK_ALLOGRAFT_REJECTION</text>
<text transform="translate(826,608) scale(1.6846,3)" textLength="120" lengthAdjust="spacingAndGlyphs">HALLMARK_IL2_STAT5_SIGNALING</text>
<text transform="translate(960,774) scale(1.6846,3)" textLength="119" lengthAdjust="spacingAndGlyphs">HALLMARK_KRAS_SIGNALING_UP</text>
<text transform="translate(1268,1076) scale(1.6846,3)" textLength="151" lengthAdjust="spacingAndGlyphs">HALLMARK_ESTROGEN_RESPONSE_EARLY</text>
<text transform="translate(728,1242) scale(1.6846,3)" textLength="164" lengthAdjust="spacingAndGlyphs">HALLMARK_INTERFERON_GAMMA_RESPONSE</text>
<text transform="translate(917,1311) scale(1.6846,3)" textLength="143" lengthAdjust="spacingAndGlyphs">HALLMARK_TNFA_SIGNALING_VIA_NFKB</text>
<text transform="translate(735,1477) scale(1.6846,3)" textLength="142" lengthAdjust="spacingAndGlyphs">HALLMARK_INFLAMMATORY_RESPONSE</text>
<text transform="translate(985,2151) scale(1.6846,3)" textLength="113" lengthAdjust="spacingAndGlyphs">HALLMARK_UV_RESPONSE_DN</text>
<text transform="translate(760,165) scale(1.6846,3)">Fnip1</text><text transform="translate(828,175) scale(1.6846,3)">Gucy1a1</text><text transform="translate(922,155) scale(1.6846,3)">Slc4a1</text><text transform="translate(695,205) scale(1.6846,3)">Ckap4</text><text transform="translate(690,246) scale(1.6846,3)">Serpinc1</text><text transform="translate(757,283) scale(1.6846,3)">Pqlc1</text><text transform="translate(858,310) scale(1.6846,3)">Cdc6</text><text transform="translate(948,275) scale(1.6846,3)">Hopx</text><text transform="translate(1025,310) scale(1.6846,3)">St6gal1</text><text transform="translate(703,397) scale(1.6846,3)">Nfil3</text><text transform="translate(812,378) scale(1.6846,3)">Myo1e</text><text transform="translate(972,395) scale(1.6846,3)">Dhrs3</text><text transform="translate(1100,346) scale(1.6846,3)">Ly6e</text><text transform="translate(896,448) scale(1.6846,3)">Pth1r</text><text transform="translate(1155,430) scale(1.6846,3)">Map3k1</text><text transform="translate(986,525) scale(1.6846,3)">Il1r2</text><text transform="translate(1100,582) scale(1.6846,3)">Cln4</text><text transform="translate(928,627) scale(1.6846,3)">Car2</text><text transform="translate(1180,623) scale(1.6846,3)">Itih2</text><text transform="translate(1100,726) scale(1.6846,3)">Muc1</text><text transform="translate(1168,773) scale(1.6846,3)">Etv4</text><text transform="translate(658,745) scale(1.6846,3)">Ets1</text><text transform="translate(611,825) scale(1.6846,3)">Cd83</text><text transform="translate(645,865) scale(1.6846,3)">Irf8</text><text transform="translate(812,901) scale(1.6846,3)">Casp3</text><text transform="translate(665,978) scale(1.6846,3)">Il10</text><text transform="translate(900,1000) scale(1.6846,3)">Nt5e</text><text transform="translate(943,973) scale(1.6846,3)">Ccl3</text><text transform="translate(1132,1106) scale(1.6846,3)">Klf4</text><text transform="translate(1035,1178) scale(1.6846,3)">Gfpt2</text><text transform="translate(945,1153) scale(1.6846,3)">Tnfaip3</text><text transform="translate(637,1235) scale(1.6846,3)">Cxcl9</text><text transform="translate(573,1262) scale(1.6846,3)">Il7</text><text transform="translate(1060,1380) scale(1.6846,3)">Tpbg</text>
<text transform="translate(400,469) scale(1.6846,3)">H2-M10.4</text><text transform="translate(325,527) scale(1.6846,3)">H2-M1</text><text transform="translate(452,542) scale(1.6846,3)">H2-Q8</text><text transform="translate(275,575) scale(1.6846,3)">Il6</text><text transform="translate(504,575) scale(1.6846,3)">H2-Q4</text><text transform="translate(330,639) scale(1.6846,3)">H2-D1</text><text transform="translate(428,605) scale(1.6846,3)">Irf4</text><text transform="translate(235,639) scale(1.6846,3)">H2-T9</text><text transform="translate(492,685) scale(1.6846,3)">H2-Q2</text><text transform="translate(203,717) scale(1.6846,3)">Gm11127</text><text transform="translate(282,738) scale(1.6846,3)">H2-Q9</text><text transform="translate(378,787) scale(1.6846,3)">Trat1</text><text transform="translate(173,803) scale(1.6846,3)">H2-T23</text><text transform="translate(255,800) scale(1.6846,3)">H2-Q1</text><text transform="translate(465,851) scale(1.6846,3)">H2-T22</text><text transform="translate(334,845) scale(1.6846,3)">H2-T24</text><text transform="translate(188,860) scale(1.6846,3)">H2-M2</text><text transform="translate(250,938) scale(1.6846,3)">H2-M10.3</text><text transform="translate(183,958) scale(1.6846,3)">Gm7030</text><text transform="translate(304,1058) scale(1.6846,3)">H2-M11</text><text transform="translate(163,1100) scale(1.6846,3)">H2-M10.1</text><text transform="translate(469,1085) scale(1.6846,3)">H2-M10.2</text><text transform="translate(231,1128) scale(1.6846,3)">H2-Q10</text><text transform="translate(387,1124) scale(1.6846,3)">H2-Q6</text><text transform="translate(464,1153) scale(1.6846,3)">H2-T3</text><text transform="translate(176,1198) scale(1.6846,3)">H2-M10.5</text><text transform="translate(302,1191) scale(1.6846,3)">H2-M10.6</text><text transform="translate(235,1233) scale(1.6846,3)">H2-M5</text><text transform="translate(340,1305) scale(1.6846,3)">H2-Q5</text><text transform="translate(421,1308) scale(1.6846,3)">Map3k7</text><text transform="translate(269,1303) scale(1.6846,3)">H2-K1</text><text transform="translate(312,1351) scale(1.6846,3)">Klrd1</text><text transform="translate(435,1348) scale(1.6846,3)">Gm8909</text><text transform="translate(360,1376) scale(1.6846,3)">Gcnt1</text>
<text transform="translate(1432,648) scale(1.6846,3)">Abhd2</text><text transform="translate(1450,777) scale(1.6846,3)">Wfs1</text><text transform="translate(1450,838) scale(1.6846,3)">Gm5807</text><text transform="translate(1478,960) scale(1.6846,3)">Sult2b1</text><text transform="translate(1480,1085) scale(1.6846,3)">Ar</text><text transform="translate(1438,1175) scale(1.6846,3)">Fabp1</text><text transform="translate(1465,1287) scale(1.6846,3)">Dio1</text><text transform="translate(1413,1355) scale(1.6846,3)">Slc24a3</text><text transform="translate(1420,1405) scale(1.6846,3)">Dusp1</text>
<text transform="translate(1093,1463) scale(1.6846,3)">Nfe2l3</text><text transform="translate(870,1448) scale(1.6846,3)">Cd69</text><text transform="translate(858,1521) scale(1.6846,3)">Irf1</text><text transform="translate(1110,1523) scale(1.6846,3)">Sgk1</text><text transform="translate(1030,1580) scale(1.6846,3)">Kdm6b</text><text transform="translate(797,1608) scale(1.6846,3)">Pde4b</text><text transform="translate(927,1593) scale(1.6846,3)">Ldlr</text><text transform="translate(728,1633) scale(1.6846,3)">Cmklr1</text><text transform="translate(526,1699) scale(1.6846,3)">Ptpn1</text><text transform="translate(560,1750) scale(1.6846,3)">Irf7</text><text transform="translate(1028,1753) scale(1.6846,3)">Nfkb1</text><text transform="translate(957,1825) scale(1.6846,3)">Atp2b1</text><text transform="translate(904,1847) scale(1.6846,3)">Smad3</text><text transform="translate(588,1895) scale(1.6846,3)">Slamf1</text><text transform="translate(641,1917) scale(1.6846,3)">Cnot6</text><text transform="translate(728,1863) scale(1.6846,3)">Gabbr1</text><text transform="translate(824,1926) scale(1.6846,3)">Itgb3</text>
<text transform="translate(1217,2276) scale(1.6846,3)">Xrcc2</text><text transform="translate(1131,2422) scale(1.6846,3)">Map2k5</text><text transform="translate(1078,2456) scale(1.6846,3)">Ppp1r3b</text><text transform="translate(987,2503) scale(1.6846,3)">Atp2b4</text><text transform="translate(875,2560) scale(1.6846,3)">Arfx</text><text transform="translate(796,2541) scale(1.6846,3)">Nek7</text>
</g>
</g>
<!-- legend g -->
<rect x="1484" y="2464" width="18" height="19" fill="#f07f1f"/>
<rect x="1484" y="2495" width="18" height="19" fill="#7fcdca"/>
<text x="1514" y="2478" font-size="17" font-weight="bold" textLength="252" lengthAdjust="spacingAndGlyphs">CD62L- TPEX, SATB1-KO vs Control</text>
<text x="1512" y="2510" font-size="17" font-weight="bold" textLength="254" lengthAdjust="spacingAndGlyphs">CD62L+ TPEX, SATB1-KO vs Control</text>
<g fill="none" stroke="#000" stroke-width="1.2">
<circle cx="1128.5" cy="2638" r="31"/><circle cx="1128" cy="2644" r="25"/><circle cx="1131" cy="2650.5" r="18.5"/>
<line x1="1128" y1="2607" x2="1175" y2="2607"/><line x1="1125" y1="2619" x2="1175" y2="2619"/><line x1="1131" y1="2632" x2="1160" y2="2632"/>
</g>
<g font-size="14"><text x="1178" y="2612">34</text><text x="1178" y="2625">22</text><text x="1178" y="2638">12</text>
<text x="1129" y="2690" text-anchor="middle">gene number</text></g>
</svg>
</body></html>
